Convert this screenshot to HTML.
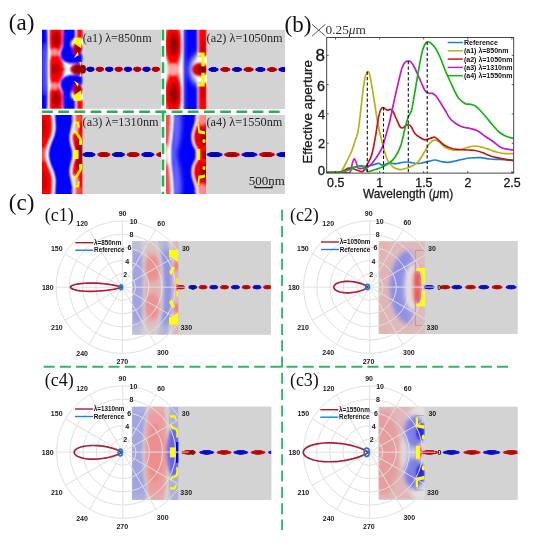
<!DOCTYPE html><html><head><meta charset="utf-8"><style>html,body{margin:0;padding:0;background:#fff;}svg{display:block;}text{font-family:"Liberation Sans",sans-serif;}.sf{font-family:"Liberation Serif",serif;}</style></head><body>
<svg width="534" height="550" viewBox="0 0 534 550" style="filter:blur(0.3px)">

<defs>
 <filter id="bl1" x="-20%" y="-20%" width="140%" height="140%"><feGaussianBlur stdDeviation="1.0"/></filter>
 <filter id="bl13" x="-20%" y="-20%" width="140%" height="140%"><feGaussianBlur stdDeviation="1.3"/></filter>
 <filter id="bl15" x="-20%" y="-20%" width="140%" height="140%"><feGaussianBlur stdDeviation="1.5"/></filter>
 <filter id="bl2" x="-20%" y="-20%" width="140%" height="140%"><feGaussianBlur stdDeviation="2.2"/></filter>
 <filter id="bl3" x="-30%" y="-30%" width="160%" height="160%"><feGaussianBlur stdDeviation="3.2"/></filter>
 <filter id="bl05" x="-20%" y="-20%" width="140%" height="140%"><feGaussianBlur stdDeviation="0.45"/></filter>
 <radialGradient id="gB"><stop offset="0" stop-color="#000078"/><stop offset="0.55" stop-color="#0000c0"/><stop offset="0.82" stop-color="#0a0af5"/><stop offset="1" stop-color="#5050ff" stop-opacity="0.05"/></radialGradient>
 <radialGradient id="gR"><stop offset="0" stop-color="#800000"/><stop offset="0.55" stop-color="#b00000"/><stop offset="0.82" stop-color="#e80000"/><stop offset="1" stop-color="#ff5050" stop-opacity="0.05"/></radialGradient>
 <clipPath id="ca1"><rect x="42" y="29.8" width="41" height="79"/></clipPath>
 <clipPath id="ca2"><rect x="166" y="29.8" width="40.5" height="79.2"/></clipPath>
 <clipPath id="ca3"><rect x="42" y="115" width="40.5" height="79"/></clipPath>
 <clipPath id="ca4"><rect x="166" y="115" width="40" height="79"/></clipPath>
 <clipPath id="wa1"><rect x="82" y="29.8" width="79" height="79"/></clipPath>
 <clipPath id="wa2"><rect x="205" y="29.8" width="80" height="79"/></clipPath>
 <clipPath id="wa3"><rect x="81" y="115" width="80" height="79"/></clipPath>
 <clipPath id="wa4"><rect x="205" y="115" width="80" height="79"/></clipPath>
</defs>

<rect x="0.0" y="0.0" width="534.0" height="550.0" fill="#ffffff" />
<text class="sf" x="8.8" y="30.4" font-size="23" fill="#111">(a)</text>
<rect x="83.0" y="29.8" width="78.0" height="79.0" fill="#d3d3d3" />
<rect x="206.5" y="29.8" width="78.5" height="79.2" fill="#d3d3d3" />
<rect x="82.5" y="115.0" width="78.5" height="79.0" fill="#d3d3d3" />
<rect x="206.0" y="115.0" width="79.0" height="79.0" fill="#d3d3d3" />
<g clip-path="url(#ca1)"><rect x="42.0" y="29.8" width="41.0" height="79.0" fill="#ffffff" /><g filter="url(#bl1)"><path d="M40.0,28.0 C40.0,34.9 40.0,55.5 40.0,69.3 C40.0,83.1 40.0,103.7 40.0,110.6 L47.2,110.6 C47.2,107.8 47.4,100.5 47.4,93.6 C47.4,86.7 47.2,77.4 47.2,69.3 C47.2,61.2 47.4,51.9 47.4,45.0 C47.4,38.1 47.2,30.8 47.2,28.0 Z" fill="#0000ff" /><path d="M49.6,28.0 C49.6,30.7 49.3,39.7 49.6,44.0 C49.9,48.3 51.2,50.6 51.2,53.6 C51.2,56.6 50.0,59.4 49.8,62.0 C49.6,64.6 49.8,66.9 49.8,69.3 C49.8,71.7 49.6,74.0 49.8,76.6 C50.0,79.2 51.2,82.0 51.2,85.0 C51.2,88.0 49.9,90.3 49.6,94.6 C49.3,98.9 49.6,107.9 49.6,110.6 L62.2,110.6 C62.2,107.9 62.8,98.9 62.2,94.6 C61.6,90.3 58.5,88.0 58.5,85.0 C58.5,82.0 61.7,79.2 62.5,76.6 C63.3,74.0 63.5,71.7 63.5,69.3 C63.5,66.9 63.3,64.6 62.5,62.0 C61.7,59.4 58.5,56.6 58.5,53.6 C58.5,50.6 61.6,48.3 62.2,44.0 C62.8,39.7 62.2,30.7 62.2,28.0 Z" fill="#ff0000" /><polygon points="60.0,63.8 65.5,69.3 60.0,74.8" fill="#ff0000" /><ellipse cx="54.5" cy="52.3" rx="3.2" ry="3.2" fill="#ffb8b8" opacity="0.8"/><ellipse cx="54.5" cy="86.3" rx="3.2" ry="3.2" fill="#ffb8b8" opacity="0.8"/><ellipse cx="56.3" cy="39.3" rx="4.0" ry="8.0" fill="#b00000" /><ellipse cx="56.3" cy="99.3" rx="4.0" ry="8.0" fill="#b00000" /><ellipse cx="55.5" cy="69.3" rx="4.5" ry="6.0" fill="#c00000" /><ellipse cx="44.5" cy="69.3" rx="2.0" ry="26.0" fill="#ffffff" opacity="0.3"/><polygon points="63.2,28.0 75.0,28.0 75.0,38.5 71.5,40.5 70.5,44.5 73.5,50.5 82.5,54.0 82.5,62.8 76.0,63.5 69.5,63.5 64.0,61.5 60.5,57.5 60.5,52.5 62.8,46.0" fill="#0000ff" /><polygon points="63.2,110.6 75.0,110.6 75.0,100.1 71.5,98.1 70.5,94.1 73.5,88.1 82.5,84.6 82.5,75.8 76.0,75.1 69.5,75.1 64.0,77.1 60.5,81.1 60.5,86.1 62.8,92.6" fill="#0000ff" /><polygon points="77.0,28.0 83.0,28.0 83.0,38.5 77.0,38.5" fill="#ff0000" /><polygon points="77.0,110.6 83.0,110.6 83.0,100.1 77.0,100.1" fill="#ff0000" /><ellipse cx="77.5" cy="48.8" rx="5.0" ry="6.2" fill="#c00000" /><ellipse cx="77.5" cy="89.8" rx="5.0" ry="6.2" fill="#c00000" /><ellipse cx="78.5" cy="49.8" rx="2.5" ry="3.5" fill="#900000" /><ellipse cx="78.5" cy="88.8" rx="2.5" ry="3.5" fill="#900000" /><ellipse cx="78.0" cy="69.3" rx="7.8" ry="5.8" fill="#c00000" /><ellipse cx="79.0" cy="69.3" rx="5.0" ry="4.0" fill="#8a0000" /></g><g filter="url(#bl1)"><path d="M48.5,28.0 C48.5,30.8 48.4,40.7 48.5,45.0 C48.6,49.3 49.2,50.8 49.2,53.6 C49.2,56.4 48.7,59.4 48.6,62.0 C48.5,64.6 48.6,66.9 48.6,69.3 C48.6,71.7 48.5,74.0 48.6,76.6 C48.7,79.2 49.2,82.2 49.2,85.0 C49.2,87.8 48.6,89.3 48.5,93.6 C48.4,97.9 48.5,107.8 48.5,110.6" stroke="#ffffff" stroke-width="1.60" fill="none" stroke-opacity="0.90"/></g><g filter="url(#bl05)"><polygon points="73.6,37.8 81.0,37.8 81.0,48.0 78.5,46.5 73.6,42.8" fill="#ffff00" /><polygon points="73.6,100.8 81.0,100.8 81.0,90.6 78.5,92.1 73.6,95.8" fill="#ffff00" /><polygon points="73.8,58.2 77.8,51.8 78.6,55.0" fill="#ffff00" /><polygon points="73.8,80.4 77.8,86.8 78.6,83.6" fill="#ffff00" /><polygon points="79.4,62.0 81.0,62.0 81.0,66.5" fill="#ffff00" /><polygon points="79.4,76.6 81.0,76.6 81.0,72.1" fill="#ffff00" /></g></g>
<g clip-path="url(#ca2)"><rect x="166.0" y="29.8" width="40.5" height="79.2" fill="#ffffff" /><g filter="url(#bl1)"><path d="M165.0,28.0 C165.1,31.7 165.1,44.3 165.5,50.0 C165.9,55.7 167.1,58.8 167.5,62.0 C167.9,65.2 168.0,67.0 168.0,69.5 C168.0,72.0 167.9,73.8 167.5,77.0 C167.1,80.2 165.9,83.3 165.5,89.0 C165.1,94.7 165.1,107.3 165.0,111.0 L180.6,111.0 C180.6,108.2 180.8,99.3 180.6,94.0 C180.4,88.7 179.9,83.1 179.6,79.0 C179.3,74.9 179.0,72.7 179.0,69.5 C179.0,66.3 179.3,64.1 179.6,60.0 C179.9,55.9 180.4,50.3 180.6,45.0 C180.8,39.7 180.6,30.8 180.6,28.0 Z" fill="#ff6060" /><ellipse cx="173.3" cy="44.5" rx="8.3" ry="21.0" fill="#ff0000" /><ellipse cx="173.3" cy="94.5" rx="8.3" ry="21.0" fill="#ff0000" /><ellipse cx="173.7" cy="44.5" rx="5.2" ry="12.0" fill="#c00000" /><ellipse cx="173.7" cy="94.5" rx="5.2" ry="12.0" fill="#c00000" /><ellipse cx="173.7" cy="44.5" rx="2.8" ry="7.0" fill="#980000" /><ellipse cx="173.7" cy="94.5" rx="2.8" ry="7.0" fill="#980000" /><ellipse cx="173.0" cy="69.5" rx="6.0" ry="6.0" fill="#ffb8b8" opacity="0.8"/><rect x="183.2" y="28.0" width="14.2" height="84.0" fill="#0000ff" /></g><g filter="url(#bl1)"><line x1="181.9" y1="28" x2="181.9" y2="111" stroke="#fff" stroke-width="1.6" stroke-opacity="0.9"/><rect x="183.2" y="28.0" width="3.5" height="84.0" fill="#ffffff" opacity="0.18"/></g><g filter="url(#bl3)"><ellipse cx="201.5" cy="69.5" rx="11.5" ry="16.0" fill="#ffffff" /></g><g filter="url(#bl1)"><rect x="198.6" y="27.0" width="8.5" height="29.0" fill="#ff0000" /><rect x="198.6" y="83.0" width="8.5" height="29.0" fill="#ff0000" /><ellipse cx="203.0" cy="47.5" rx="2.5" ry="8.0" fill="#d00000" /><ellipse cx="203.0" cy="91.5" rx="2.5" ry="8.0" fill="#d00000" /><ellipse cx="200.0" cy="69.5" rx="8.0" ry="6.8" fill="#e00000" /><ellipse cx="202.0" cy="69.5" rx="5.0" ry="4.6" fill="#b00000" /><ellipse cx="202.8" cy="69.5" rx="3.0" ry="3.0" fill="#800000" /></g><g filter="url(#bl05)"><polygon points="197.4,52.6 204.6,52.6 204.6,66.2 201.4,66.2 201.4,55.8 197.4,55.8" fill="#ffff00" /><polygon points="197.4,86.4 204.6,86.4 204.6,72.8 201.4,72.8 201.4,83.2 197.4,83.2" fill="#ffff00" /></g></g>
<g clip-path="url(#ca3)"><rect x="42.0" y="115.0" width="40.5" height="79.0" fill="#ffffff" /><g filter="url(#bl13)"><path d="M40.0,113.0 C40.0,119.9 40.0,140.7 40.0,154.5 C40.0,168.3 40.0,189.1 40.0,196.0 L51.6,196.0 C51.7,194.5 52.1,189.7 52.2,187.0 C52.3,184.3 52.6,182.3 52.4,180.0 C52.2,177.7 51.6,175.2 51.0,173.0 C50.4,170.8 49.2,169.0 48.5,167.0 C47.8,165.0 47.0,163.1 46.5,161.0 C46.0,158.9 45.5,156.7 45.5,154.5 C45.5,152.3 46.0,150.1 46.5,148.0 C47.0,145.9 47.8,144.0 48.5,142.0 C49.2,140.0 50.4,138.2 51.0,136.0 C51.6,133.8 52.2,131.3 52.4,129.0 C52.6,126.7 52.3,124.7 52.2,122.0 C52.1,119.3 51.7,114.5 51.6,113.0 Z" fill="#ff0000" /><ellipse cx="44.0" cy="128.5" rx="3.2" ry="10.0" fill="#d00000" /><ellipse cx="44.0" cy="180.5" rx="3.2" ry="10.0" fill="#d00000" /><ellipse cx="43.5" cy="154.5" rx="3.0" ry="7.0" fill="#ffa0a0" opacity="0.5"/><path d="M54.4,113.0 C54.5,114.5 54.9,119.3 55.0,122.0 C55.1,124.7 55.4,126.7 55.2,129.0 C55.0,131.3 54.4,133.8 53.8,136.0 C53.1,138.2 52.0,140.0 51.3,142.0 C50.5,144.0 49.8,145.9 49.3,148.0 C48.8,150.1 48.3,152.3 48.3,154.5 C48.3,156.7 48.8,158.9 49.3,161.0 C49.8,163.1 50.5,165.0 51.3,167.0 C52.0,169.0 53.1,170.8 53.8,173.0 C54.4,175.2 55.0,177.7 55.2,180.0 C55.4,182.3 55.1,184.3 55.0,187.0 C54.9,189.7 54.5,194.5 54.4,196.0 L72.8,196.0 C72.9,194.8 73.3,191.5 73.2,189.0 C73.1,186.5 72.5,183.7 72.0,181.0 C71.5,178.3 70.2,175.7 70.0,173.0 C69.8,170.3 70.4,167.3 70.8,165.0 C71.2,162.7 72.2,160.8 72.5,159.0 C72.8,157.2 72.8,156.0 72.8,154.5 C72.8,153.0 72.8,151.8 72.5,150.0 C72.2,148.2 71.2,146.3 70.8,144.0 C70.4,141.7 69.8,138.7 70.0,136.0 C70.2,133.3 71.5,130.7 72.0,128.0 C72.5,125.3 73.1,122.5 73.2,120.0 C73.3,117.5 72.9,114.2 72.8,113.0 Z" fill="#0000ff" /><path d="M75.0,113.0 C75.1,114.2 75.5,117.5 75.4,120.0 C75.3,122.5 74.7,125.3 74.2,128.0 C73.7,130.7 72.4,133.3 72.2,136.0 C72.0,138.7 72.6,141.7 73.0,144.0 C73.4,146.3 74.4,148.2 74.7,150.0 C75.0,151.8 75.0,153.0 75.0,154.5 C75.0,156.0 75.0,157.2 74.7,159.0 C74.4,160.8 73.4,162.7 73.0,165.0 C72.6,167.3 72.0,170.3 72.2,173.0 C72.4,175.7 73.7,178.3 74.2,181.0 C74.7,183.7 75.3,186.5 75.4,189.0 C75.5,191.5 75.1,194.8 75.0,196.0 L84.0,196.0 C84.0,189.1 84.0,168.3 84.0,154.5 C84.0,140.7 84.0,119.9 84.0,113.0 Z" fill="#ff0000" /><ellipse cx="75.0" cy="128.5" rx="3.0" ry="5.0" fill="#e4d4f0" opacity="0.85"/><ellipse cx="75.0" cy="180.5" rx="3.0" ry="5.0" fill="#e4d4f0" opacity="0.85"/><ellipse cx="77.0" cy="118.5" rx="5.0" ry="4.0" fill="#ff8080" opacity="0.6"/><ellipse cx="77.0" cy="190.5" rx="5.0" ry="4.0" fill="#ff8080" opacity="0.6"/><ellipse cx="79.5" cy="146.5" rx="3.5" ry="9.0" fill="#a80000" /><ellipse cx="79.5" cy="162.5" rx="3.5" ry="9.0" fill="#a80000" /><ellipse cx="80.5" cy="154.5" rx="2.5" ry="4.0" fill="#900000" /></g><g filter="url(#bl1)"><path d="M53.0,113.0 C53.1,114.5 53.5,119.3 53.6,122.0 C53.7,124.7 54.0,126.7 53.8,129.0 C53.6,131.3 53.0,133.8 52.4,136.0 C51.8,138.2 50.6,140.0 49.9,142.0 C49.1,144.0 48.4,145.9 47.9,148.0 C47.4,150.1 46.9,152.3 46.9,154.5 C46.9,156.7 47.4,158.9 47.9,161.0 C48.4,163.1 49.1,165.0 49.9,167.0 C50.6,169.0 51.8,170.8 52.4,173.0 C53.0,175.2 53.6,177.7 53.8,180.0 C54.0,182.3 53.7,184.3 53.6,187.0 C53.5,189.7 53.1,194.5 53.0,196.0" stroke="#ffffff" stroke-width="2.20" fill="none" stroke-opacity="0.90"/><path d="M73.9,113.0 C74.0,114.2 74.4,117.5 74.3,120.0 C74.2,122.5 73.6,125.3 73.1,128.0 C72.6,130.7 71.3,133.3 71.1,136.0 C70.9,138.7 71.5,141.7 71.9,144.0 C72.3,146.3 73.3,148.2 73.6,150.0 C73.9,151.8 73.9,153.0 73.9,154.5 C73.9,156.0 73.9,157.2 73.6,159.0 C73.3,160.8 72.3,162.7 71.9,165.0 C71.5,167.3 70.9,170.3 71.1,173.0 C71.3,175.7 72.6,178.3 73.1,181.0 C73.6,183.7 74.2,186.5 74.3,189.0 C74.4,191.5 74.0,194.8 73.9,196.0" stroke="#ffffff" stroke-width="1.80" fill="none" stroke-opacity="0.90"/></g><g filter="url(#bl05)"><polygon points="74.2,121.4 79.2,121.4 79.8,127.8 77.6,127.6 77.0,124.0 74.2,124.0" fill="#ffff00" /><polygon points="74.2,187.6 79.2,187.6 79.8,181.2 77.6,181.4 77.0,185.0 74.2,185.0" fill="#ffff00" /><path d="M73.9,131.0 C74.3,131.3 75.8,131.8 76.5,132.6 C77.2,133.3 77.3,134.4 78.0,135.5 C78.7,136.6 80.0,138.0 80.4,139.0 C80.8,140.0 80.6,141.1 80.6,141.5" stroke="#ffff00" stroke-width="2.6" fill="none"/><path d="M73.9,178.0 C74.3,177.7 75.8,177.2 76.5,176.4 C77.2,175.7 77.3,174.6 78.0,173.5 C78.7,172.4 80.0,171.0 80.4,170.0 C80.8,169.0 80.6,167.9 80.6,167.5" stroke="#ffff00" stroke-width="2.6" fill="none"/><ellipse cx="80.6" cy="142.9" rx="1.8" ry="2.3" fill="#ffff00" /><ellipse cx="80.6" cy="166.1" rx="1.8" ry="2.3" fill="#ffff00" /><rect x="73.5" y="150.0" width="5.0" height="9.0" fill="#ffff00" /></g></g>
<g clip-path="url(#ca4)"><rect x="166.0" y="115.0" width="40.0" height="79.0" fill="#ffffff" /><g filter="url(#bl1)"><path d="M164.0,113.0 C164.0,119.9 164.0,140.7 164.0,154.5 C164.0,168.3 164.0,189.1 164.0,196.0 L171.0,196.0 C171.0,194.5 171.0,190.7 170.8,187.0 C170.6,183.3 170.4,178.0 170.0,174.0 C169.6,170.0 169.0,166.2 168.6,163.0 C168.2,159.8 167.6,157.3 167.6,154.5 C167.6,151.7 168.2,149.2 168.6,146.0 C169.0,142.8 169.6,139.0 170.0,135.0 C170.4,131.0 170.6,125.7 170.8,122.0 C171.0,118.3 171.0,114.5 171.0,113.0 Z" fill="#ff4a4a" /><ellipse cx="166.0" cy="154.5" rx="3.0" ry="11.0" fill="#ffffff" opacity="0.45"/><path d="M173.4,113.0 C173.4,114.5 173.4,118.3 173.2,122.0 C173.0,125.7 172.5,131.0 172.2,135.0 C171.9,139.0 171.5,142.8 171.2,146.0 C170.9,149.2 170.6,151.7 170.6,154.5 C170.6,157.3 170.9,159.8 171.2,163.0 C171.5,166.2 171.9,170.0 172.2,174.0 C172.5,178.0 173.0,183.3 173.2,187.0 C173.4,190.7 173.4,194.5 173.4,196.0 L196.8,196.0 C196.7,194.8 196.8,191.8 196.2,189.0 C195.6,186.2 193.7,181.8 193.0,179.0 C192.3,176.2 191.8,174.3 191.8,172.0 C191.8,169.7 192.3,167.2 193.0,165.0 C193.7,162.8 195.5,160.8 196.0,159.0 C196.5,157.2 196.2,156.0 196.2,154.5 C196.2,153.0 196.5,151.8 196.0,150.0 C195.5,148.2 193.7,146.2 193.0,144.0 C192.3,141.8 191.8,139.3 191.8,137.0 C191.8,134.7 192.3,132.8 193.0,130.0 C193.7,127.2 195.6,122.8 196.2,120.0 C196.8,117.2 196.7,114.2 196.8,113.0 Z" fill="#0000ff" /><path d="M198.6,113.0 C198.5,114.2 198.6,117.2 198.0,120.0 C197.4,122.8 195.5,127.2 194.8,130.0 C194.1,132.8 193.6,134.7 193.6,137.0 C193.6,139.3 194.1,141.8 194.8,144.0 C195.5,146.2 197.3,148.2 197.8,150.0 C198.3,151.8 198.0,153.0 198.0,154.5 C198.0,156.0 198.3,157.2 197.8,159.0 C197.3,160.8 195.5,162.8 194.8,165.0 C194.1,167.2 193.6,169.7 193.6,172.0 C193.6,174.3 194.1,176.2 194.8,179.0 C195.5,181.8 197.4,186.2 198.0,189.0 C198.6,191.8 198.5,194.8 198.6,196.0 L208.0,196.0 C208.0,189.1 208.0,168.3 208.0,154.5 C208.0,140.7 208.0,119.9 208.0,113.0 Z" fill="#ff1010" /><ellipse cx="200.5" cy="137.0" rx="7.0" ry="11.5" fill="#e80000" /><ellipse cx="200.5" cy="172.0" rx="7.0" ry="11.5" fill="#e80000" /><ellipse cx="204.0" cy="137.5" rx="3.5" ry="8.0" fill="#a00000" /><ellipse cx="204.0" cy="171.5" rx="3.5" ry="8.0" fill="#a00000" /><ellipse cx="204.5" cy="154.5" rx="2.5" ry="5.0" fill="#b00000" /><ellipse cx="201.5" cy="118.5" rx="6.0" ry="6.5" fill="#ffb0b0" opacity="0.75"/><ellipse cx="201.5" cy="190.5" rx="6.0" ry="6.5" fill="#ffb0b0" opacity="0.75"/></g><g filter="url(#bl2)"><path d="M172.0,113.0 C172.0,119.9 172.0,140.7 172.0,154.5 C172.0,168.3 172.0,189.1 172.0,196.0 L181.0,196.0 C181.1,194.0 181.7,188.5 181.5,184.0 C181.3,179.5 180.8,173.9 180.0,169.0 C179.2,164.1 177.0,159.3 177.0,154.5 C177.0,149.7 179.2,144.9 180.0,140.0 C180.8,135.1 181.3,129.5 181.5,125.0 C181.7,120.5 181.1,115.0 181.0,113.0 Z" fill="#ffffff" opacity="0.4"/><ellipse cx="168.0" cy="154.5" rx="3.0" ry="8.0" fill="#ffffff" opacity="0.35"/><ellipse cx="168.0" cy="154.5" rx="3.0" ry="8.0" fill="#ffffff" opacity="0.35"/></g><g filter="url(#bl1)"><path d="M172.2,113.0 C172.2,114.5 172.2,118.3 172.0,122.0 C171.8,125.7 171.4,131.0 171.1,135.0 C170.8,139.0 170.2,142.8 169.9,146.0 C169.6,149.2 169.1,151.7 169.1,154.5 C169.1,157.3 169.6,159.8 169.9,163.0 C170.2,166.2 170.8,170.0 171.1,174.0 C171.4,178.0 171.8,183.3 172.0,187.0 C172.2,190.7 172.2,194.5 172.2,196.0" stroke="#ffffff" stroke-width="2.00" fill="none" stroke-opacity="0.90"/><path d="M197.7,113.0 C197.6,114.2 197.7,117.2 197.1,120.0 C196.5,122.8 194.6,127.2 193.9,130.0 C193.2,132.8 192.7,134.7 192.7,137.0 C192.7,139.3 193.2,141.8 193.9,144.0 C194.6,146.2 196.4,148.2 196.9,150.0 C197.4,151.8 197.1,153.0 197.1,154.5 C197.1,156.0 197.4,157.2 196.9,159.0 C196.4,160.8 194.6,162.8 193.9,165.0 C193.2,167.2 192.7,169.7 192.7,172.0 C192.7,174.3 193.2,176.2 193.9,179.0 C194.6,181.8 196.5,186.2 197.1,189.0 C197.7,191.8 197.6,194.8 197.7,196.0" stroke="#ffffff" stroke-width="1.60" fill="none" stroke-opacity="0.90"/></g><g filter="url(#bl05)"><polygon points="197.3,123.8 199.2,123.8 199.8,130.2 205.0,131.6 205.0,134.6 198.3,133.2" fill="#ffff00" /><polygon points="197.3,185.2 199.2,185.2 199.8,178.8 205.0,177.4 205.0,174.4 198.3,175.8" fill="#ffff00" /><ellipse cx="204.0" cy="141.0" rx="1.6" ry="1.9" fill="#ffff00" /><ellipse cx="204.0" cy="168.0" rx="1.6" ry="1.9" fill="#ffff00" /><rect x="197.3" y="149.0" width="2.9" height="11.0" fill="#ffff00" /></g></g>
<g clip-path="url(#wa1)"><ellipse cx="90.4" cy="69.2" rx="4.7" ry="3.0" fill="url(#gB)" /><ellipse cx="99.8" cy="69.2" rx="4.7" ry="3.0" fill="url(#gR)" /><ellipse cx="109.3" cy="69.2" rx="4.7" ry="3.0" fill="url(#gB)" /><ellipse cx="118.7" cy="69.2" rx="4.7" ry="3.0" fill="url(#gR)" /><ellipse cx="128.0" cy="69.2" rx="4.7" ry="3.0" fill="url(#gB)" /><ellipse cx="137.3" cy="69.2" rx="4.7" ry="3.0" fill="url(#gR)" /><ellipse cx="146.5" cy="69.2" rx="4.7" ry="3.0" fill="url(#gB)" /><ellipse cx="155.8" cy="69.2" rx="4.7" ry="3.0" fill="url(#gR)" /></g>
<g filter="url(#bl05)"><ellipse cx="83.2" cy="69.3" rx="2.8" ry="4.2" fill="#900000" /></g>
<g clip-path="url(#wa2)"><ellipse cx="213.5" cy="69.5" rx="5.7" ry="2.7" fill="url(#gB)" /><ellipse cx="225.3" cy="69.5" rx="5.7" ry="2.7" fill="url(#gR)" /><ellipse cx="237.0" cy="69.5" rx="5.7" ry="2.7" fill="url(#gB)" /><ellipse cx="248.6" cy="69.5" rx="5.7" ry="2.7" fill="url(#gR)" /><ellipse cx="260.4" cy="69.5" rx="5.7" ry="2.7" fill="url(#gB)" /><ellipse cx="272.0" cy="69.5" rx="5.7" ry="2.7" fill="url(#gR)" /><ellipse cx="283.4" cy="69.5" rx="5.7" ry="2.7" fill="url(#gB)" /></g>
<g clip-path="url(#wa3)"><ellipse cx="88.9" cy="154.6" rx="7.3" ry="3.0" fill="url(#gB)" /><ellipse cx="103.8" cy="154.6" rx="7.3" ry="3.0" fill="url(#gR)" /><ellipse cx="118.4" cy="154.6" rx="7.3" ry="3.0" fill="url(#gB)" /><ellipse cx="133.2" cy="154.6" rx="7.3" ry="3.0" fill="url(#gR)" /><ellipse cx="147.8" cy="154.6" rx="7.3" ry="3.0" fill="url(#gB)" /><ellipse cx="162.6" cy="154.6" rx="7.3" ry="3.0" fill="url(#gR)" /></g>
<g clip-path="url(#wa4)"><ellipse cx="214.6" cy="154.6" rx="8.8" ry="3.0" fill="url(#gB)" /><ellipse cx="231.9" cy="154.6" rx="8.8" ry="3.0" fill="url(#gR)" /><ellipse cx="249.4" cy="154.6" rx="8.8" ry="3.0" fill="url(#gB)" /><ellipse cx="266.9" cy="154.6" rx="8.8" ry="3.0" fill="url(#gR)" /><ellipse cx="284.3" cy="154.6" rx="8.8" ry="3.0" fill="url(#gB)" /></g>
<text class="sf" x="82.7" y="42.4" font-size="12" fill="#262626" textLength="68.9" lengthAdjust="spacingAndGlyphs">(a1) λ=850nm</text>
<text class="sf" x="206.6" y="42.4" font-size="12" fill="#262626" textLength="76.0" lengthAdjust="spacingAndGlyphs">(a2) λ=1050nm</text>
<text class="sf" x="82.6" y="125.7" font-size="12" fill="#262626" textLength="76.0" lengthAdjust="spacingAndGlyphs">(a3) λ=1310nm</text>
<text class="sf" x="206.4" y="125.7" font-size="12" fill="#262626" textLength="76.0" lengthAdjust="spacingAndGlyphs">(a4) λ=1550nm</text>
<text class="sf" x="248.8" y="185.2" font-size="12.4" fill="#222" textLength="36" lengthAdjust="spacingAndGlyphs">500nm</text>
<path d="M255,185.5 L255,187.6 L272,187.6 L272,185.5" stroke="#222" stroke-width="1.3" fill="none"/>
<line x1="42" y1="111.8" x2="285" y2="111.8" stroke="#22b455" stroke-width="2.6" stroke-dasharray="10.8 5.4"/>
<line x1="163" y1="29.8" x2="163" y2="194" stroke="#22b455" stroke-width="2.6" stroke-dasharray="10.8 5.4"/>
<text class="sf" x="284.5" y="31.6" font-size="23" fill="#111">(b)</text>
<path d="M312,24.3 L325.5,36.1 M325.5,24.3 L312,36.1" stroke="#444" stroke-width="0.9"/>
<text class="sf" x="325.5" y="33.6" font-size="11.8" fill="#333" textLength="40.5" lengthAdjust="spacingAndGlyphs">0.25<tspan font-style="italic">μ</tspan>m</text>
<clipPath id="cb"><rect x="326.7" y="37.5" width="187" height="135.5"/></clipPath><g clip-path="url(#cb)"><path d="M326.7,172.5 C328.9,172.5 336.9,172.6 340.0,172.3 C343.1,172.1 343.3,171.6 345.0,171.0 C346.7,170.4 348.2,169.2 350.0,168.5 C351.8,167.8 353.7,167.1 355.5,166.8 C357.3,166.5 359.2,166.6 361.0,166.5 C362.8,166.4 364.4,166.5 366.4,166.2 C368.4,165.9 371.1,165.3 373.2,164.8 C375.2,164.3 377.2,163.3 378.7,163.4 C380.2,163.5 380.8,165.1 382.0,165.2 C383.2,165.3 384.7,164.4 386.0,164.0 C387.3,163.6 388.1,162.8 389.6,162.8 C391.1,162.8 393.3,163.8 395.0,163.8 C396.7,163.8 398.3,163.1 400.0,162.8 C401.7,162.5 403.3,162.1 405.0,162.0 C406.7,161.9 408.2,162.1 410.0,162.3 C411.8,162.6 414.0,163.4 416.0,163.5 C418.0,163.6 420.0,163.3 422.0,163.0 C424.0,162.7 425.8,162.0 428.0,161.5 C430.2,161.0 432.8,160.0 435.0,160.0 C437.2,160.0 438.9,161.1 441.0,161.5 C443.1,161.9 445.4,162.4 447.7,162.3 C450.0,162.2 452.6,161.5 455.0,161.0 C457.4,160.5 459.5,160.0 462.0,159.5 C464.5,159.0 466.9,158.3 470.0,158.0 C473.1,157.7 477.0,157.4 480.3,157.6 C483.6,157.8 486.7,158.7 490.0,159.0 C493.3,159.3 496.1,159.3 500.0,159.5 C503.9,159.7 511.4,159.9 513.7,160.0" stroke="#1b82d8" stroke-width="1.7" fill="none" stroke-linejoin="round"/><path d="M326.7,172.5 C328.6,172.5 335.6,172.5 338.0,172.3 C340.4,172.1 339.8,173.1 341.1,171.5 C342.4,169.9 344.3,166.3 346.0,163.0 C347.7,159.7 349.8,155.7 351.4,151.8 C353.0,147.9 354.5,142.6 355.5,139.6 C356.5,136.6 356.8,137.2 357.5,134.0 C358.2,130.8 358.9,125.7 359.6,120.5 C360.3,115.3 360.8,109.5 361.6,102.7 C362.4,96.0 363.5,85.2 364.5,80.0 C365.5,74.8 366.5,72.5 367.4,71.8 C368.3,71.1 369.0,72.0 370.0,76.0 C371.0,80.0 372.3,88.6 373.5,96.0 C374.7,103.4 376.2,114.0 377.3,120.5 C378.4,127.0 379.3,130.7 380.3,135.0 C381.3,139.3 382.1,142.6 383.2,146.5 C384.3,150.4 385.8,155.8 386.8,158.5 C387.9,161.2 388.4,161.5 389.5,163.0 C390.6,164.5 391.9,166.4 393.7,167.5 C395.5,168.6 398.6,169.4 400.5,169.6 C402.4,169.8 403.4,168.9 405.0,168.5 C406.6,168.1 407.8,168.1 410.0,167.0 C412.2,165.9 415.5,164.7 418.0,162.0 C420.5,159.3 423.0,154.2 425.0,151.0 C427.0,147.8 428.3,144.9 430.0,143.0 C431.7,141.1 433.3,139.9 435.0,139.8 C436.7,139.7 438.3,141.2 440.0,142.5 C441.7,143.8 443.0,146.1 445.0,147.3 C447.0,148.6 449.5,149.6 452.0,150.0 C454.5,150.4 457.5,150.2 460.0,149.8 C462.5,149.4 464.5,148.1 467.0,147.5 C469.5,146.9 472.3,146.0 475.0,146.0 C477.7,146.0 480.5,146.9 483.0,147.5 C485.5,148.1 487.5,149.0 490.0,149.8 C492.5,150.6 495.5,151.9 498.0,152.5 C500.5,153.1 502.4,153.4 505.0,153.6 C507.6,153.8 512.2,153.6 513.7,153.6" stroke="#b9b01c" stroke-width="1.7" fill="none" stroke-linejoin="round"/><path d="M326.7,172.5 C328.9,172.5 336.9,172.7 340.0,172.3 C343.1,171.9 343.6,170.7 345.0,170.0 C346.4,169.3 347.3,168.4 348.6,168.2 C349.9,168.0 351.4,168.4 353.0,168.8 C354.6,169.2 356.4,170.0 358.0,170.5 C359.6,171.0 361.1,171.8 362.3,171.6 C363.5,171.3 364.2,170.1 365.0,169.0 C365.8,167.9 365.9,167.4 367.0,165.0 C368.1,162.6 370.3,159.8 371.8,154.6 C373.3,149.4 374.8,140.5 375.9,134.1 C377.0,127.7 377.9,120.5 378.7,116.4 C379.5,112.3 380.1,111.0 380.8,109.5 C381.5,108.0 382.0,107.6 382.7,107.5 C383.4,107.4 384.2,108.3 385.0,108.8 C385.8,109.2 386.8,110.0 387.5,110.2 C388.2,110.4 388.7,109.8 389.3,109.7 C389.9,109.6 390.3,109.0 391.0,109.5 C391.7,110.0 392.6,110.9 393.5,112.5 C394.4,114.1 395.2,116.5 396.4,119.0 C397.6,121.5 399.3,125.9 400.5,127.3 C401.7,128.7 402.6,127.8 403.5,127.5 C404.4,127.2 405.1,126.0 406.0,125.5 C406.9,125.0 407.9,124.5 408.7,124.7 C409.5,124.9 409.9,125.0 411.0,126.5 C412.1,128.0 413.5,131.7 415.0,133.5 C416.5,135.3 418.3,136.4 420.0,137.5 C421.7,138.6 423.3,139.6 425.0,139.8 C426.7,140.0 428.3,138.9 430.0,138.5 C431.7,138.1 433.3,136.8 435.0,137.3 C436.7,137.8 438.3,140.1 440.0,141.5 C441.7,142.9 443.0,144.3 445.0,145.5 C447.0,146.7 449.5,147.8 452.0,148.5 C454.5,149.2 457.3,149.2 460.0,149.5 C462.7,149.8 465.4,149.8 468.0,150.0 C470.6,150.2 472.8,150.0 475.3,150.5 C477.8,151.0 480.5,151.9 483.0,152.8 C485.5,153.7 487.6,155.1 490.4,156.0 C493.2,156.9 496.1,157.5 500.0,158.3 C503.9,159.1 511.4,160.4 513.7,160.8" stroke="#b71c1c" stroke-width="1.7" fill="none" stroke-linejoin="round"/><path d="M326.7,172.5 C329.4,172.5 339.4,172.2 343.0,172.3 C346.6,172.4 346.7,173.2 348.0,173.0 C349.3,172.8 349.9,172.7 350.7,171.0 C351.4,169.3 351.9,165.1 352.5,163.0 C353.1,160.9 353.6,158.9 354.2,158.7 C354.8,158.5 355.3,160.4 356.0,162.0 C356.7,163.6 357.2,167.1 358.2,168.2 C359.2,169.3 360.6,168.5 362.0,168.5 C363.4,168.5 365.1,168.5 366.4,168.0 C367.7,167.5 368.6,166.8 370.0,165.5 C371.4,164.2 373.2,161.9 374.6,160.0 C376.0,158.1 377.2,156.3 378.6,154.0 C380.0,151.7 381.5,149.6 382.7,146.4 C383.9,143.2 384.9,139.1 386.0,135.0 C387.1,130.9 388.2,127.6 389.6,121.8 C391.0,116.0 392.9,106.3 394.3,100.0 C395.7,93.7 396.7,89.3 398.0,84.0 C399.3,78.7 400.8,71.6 402.0,68.0 C403.2,64.4 403.9,63.4 405.0,62.3 C406.1,61.1 407.3,61.1 408.3,61.1 C409.3,61.1 410.0,60.9 411.0,62.0 C412.0,63.1 413.3,65.3 414.5,67.5 C415.7,69.7 416.9,72.6 418.0,75.0 C419.1,77.4 419.8,79.4 421.0,82.0 C422.2,84.6 423.7,88.6 425.0,90.5 C426.3,92.4 427.7,92.7 429.0,93.2 C430.3,93.7 431.4,92.9 432.6,93.4 C433.8,93.9 434.8,94.6 436.0,96.0 C437.2,97.4 438.5,99.7 440.0,102.0 C441.5,104.3 443.3,107.2 445.0,110.0 C446.7,112.8 448.3,116.3 450.0,118.5 C451.7,120.7 453.3,121.8 455.0,123.0 C456.7,124.2 458.3,125.2 460.0,126.0 C461.7,126.8 463.3,127.1 465.0,127.5 C466.7,127.9 468.1,127.9 470.3,128.5 C472.5,129.1 475.5,129.7 478.0,131.0 C480.5,132.3 482.9,134.8 485.4,136.5 C487.9,138.2 490.5,139.7 493.0,141.5 C495.5,143.3 498.2,145.9 500.5,147.2 C502.8,148.5 504.8,148.7 507.0,149.2 C509.2,149.7 512.6,149.9 513.7,150.0" stroke="#c21cc8" stroke-width="1.7" fill="none" stroke-linejoin="round"/><path d="M326.7,172.5 C328.9,172.5 336.9,172.6 340.0,172.3 C343.1,172.1 343.3,171.5 345.0,171.0 C346.7,170.5 348.3,170.1 350.0,169.5 C351.7,168.9 353.2,168.2 355.0,167.5 C356.8,166.8 359.5,165.5 360.9,165.5 C362.3,165.5 362.8,166.6 363.6,167.3 C364.5,168.0 365.3,168.8 366.0,169.5 C366.7,170.2 366.7,171.4 367.7,171.6 C368.7,171.8 370.3,171.1 372.0,170.6 C373.7,170.1 376.2,169.2 378.0,168.6 C379.8,168.0 380.8,167.8 382.7,166.8 C384.6,165.8 387.6,164.4 389.6,162.8 C391.7,161.2 393.2,160.0 395.0,157.3 C396.8,154.6 398.9,151.0 400.5,146.4 C402.1,141.8 403.4,134.8 404.6,130.0 C405.9,125.2 406.8,120.8 408.0,117.5 C409.2,114.2 410.5,113.9 411.6,110.0 C412.7,106.1 413.6,99.0 414.5,94.0 C415.4,89.0 416.1,84.8 416.9,80.0 C417.7,75.2 418.6,69.6 419.5,65.0 C420.4,60.4 421.2,55.8 422.0,52.5 C422.8,49.2 423.6,46.8 424.5,45.0 C425.4,43.2 426.3,42.3 427.2,41.9 C428.1,41.5 428.7,41.6 430.0,42.5 C431.3,43.4 433.3,45.1 435.0,47.5 C436.7,49.9 438.3,53.3 440.0,57.0 C441.7,60.7 443.3,65.8 445.0,69.8 C446.7,73.8 448.3,77.3 450.0,81.0 C451.7,84.7 453.6,89.2 455.0,92.0 C456.4,94.8 457.2,96.3 458.5,98.0 C459.8,99.7 461.6,101.0 462.8,102.0 C464.1,103.0 464.8,103.6 466.0,104.0 C467.2,104.4 468.8,104.0 470.3,104.3 C471.8,104.6 473.3,104.8 475.0,105.8 C476.7,106.8 478.5,108.6 480.3,110.5 C482.1,112.4 483.9,114.5 486.0,117.0 C488.1,119.5 490.8,123.0 493.0,125.5 C495.2,128.0 496.9,130.2 499.0,132.0 C501.1,133.8 503.1,134.9 505.5,136.0 C507.9,137.1 512.3,138.1 513.7,138.5" stroke="#19b019" stroke-width="1.7" fill="none" stroke-linejoin="round"/><line x1="367.3" y1="71.6" x2="367.3" y2="173" stroke="#111" stroke-width="1.1" stroke-dasharray="3.2 2.2"/><line x1="383.5" y1="107.2" x2="383.5" y2="173" stroke="#111" stroke-width="1.1" stroke-dasharray="3.2 2.2"/><line x1="408.3" y1="61.1" x2="408.3" y2="173" stroke="#111" stroke-width="1.1" stroke-dasharray="3.2 2.2"/><line x1="427.2" y1="41.9" x2="427.2" y2="173" stroke="#111" stroke-width="1.1" stroke-dasharray="3.2 2.2"/></g><rect x="326.7" y="37.5" width="187" height="135.6" fill="none" stroke="#333" stroke-width="0.9"/><line x1="335.5" y1="173" x2="335.5" y2="171" stroke="#333" stroke-width="0.8"/><line x1="335.5" y1="37.5" x2="335.5" y2="39.5" stroke="#333" stroke-width="0.8"/><line x1="379.6" y1="173" x2="379.6" y2="171" stroke="#333" stroke-width="0.8"/><line x1="379.6" y1="37.5" x2="379.6" y2="39.5" stroke="#333" stroke-width="0.8"/><line x1="423.7" y1="173" x2="423.7" y2="171" stroke="#333" stroke-width="0.8"/><line x1="423.7" y1="37.5" x2="423.7" y2="39.5" stroke="#333" stroke-width="0.8"/><line x1="467.8" y1="173" x2="467.8" y2="171" stroke="#333" stroke-width="0.8"/><line x1="467.8" y1="37.5" x2="467.8" y2="39.5" stroke="#333" stroke-width="0.8"/><line x1="511.9" y1="173" x2="511.9" y2="171" stroke="#333" stroke-width="0.8"/><line x1="511.9" y1="37.5" x2="511.9" y2="39.5" stroke="#333" stroke-width="0.8"/><line x1="326.7" y1="172.5" x2="328.7" y2="172.5" stroke="#333" stroke-width="0.8"/><line x1="513.7" y1="172.5" x2="511.7" y2="172.5" stroke="#333" stroke-width="0.8"/><text x="325" y="175.1" font-size="13.2" fill="#1a1a1a" stroke="#1a1a1a" stroke-width="0.35" text-anchor="end">0</text><line x1="326.7" y1="143.2" x2="328.7" y2="143.2" stroke="#333" stroke-width="0.8"/><line x1="513.7" y1="143.2" x2="511.7" y2="143.2" stroke="#333" stroke-width="0.8"/><text x="325" y="148.0" font-size="12.8" fill="#1a1a1a" stroke="#1a1a1a" stroke-width="0.35" text-anchor="end">2</text><line x1="326.7" y1="113.9" x2="328.7" y2="113.9" stroke="#333" stroke-width="0.8"/><line x1="513.7" y1="113.9" x2="511.7" y2="113.9" stroke="#333" stroke-width="0.8"/><text x="325" y="118.7" font-size="12.6" fill="#1a1a1a" stroke="#1a1a1a" stroke-width="0.35" text-anchor="end">4</text><line x1="326.7" y1="84.6" x2="328.7" y2="84.6" stroke="#333" stroke-width="0.8"/><line x1="513.7" y1="84.6" x2="511.7" y2="84.6" stroke="#333" stroke-width="0.8"/><text x="325" y="91.0" font-size="14.2" fill="#1a1a1a" stroke="#1a1a1a" stroke-width="0.35" text-anchor="end">6</text><line x1="326.7" y1="55.3" x2="328.7" y2="55.3" stroke="#333" stroke-width="0.8"/><line x1="513.7" y1="55.3" x2="511.7" y2="55.3" stroke="#333" stroke-width="0.8"/><text x="325" y="61.0" font-size="17.0" fill="#1a1a1a" stroke="#1a1a1a" stroke-width="0.35" text-anchor="end">8</text><text x="335.7" y="186.9" font-size="12.4" fill="#1a1a1a" stroke="#1a1a1a" stroke-width="0.3" text-anchor="middle">0.5</text><text x="379.8" y="186.9" font-size="12.4" fill="#1a1a1a" stroke="#1a1a1a" stroke-width="0.3" text-anchor="middle">1</text><text x="423.9" y="186.9" font-size="12.4" fill="#1a1a1a" stroke="#1a1a1a" stroke-width="0.3" text-anchor="middle">1.5</text><text x="468.0" y="186.9" font-size="12.4" fill="#1a1a1a" stroke="#1a1a1a" stroke-width="0.3" text-anchor="middle">2</text><text x="512.1" y="186.9" font-size="12.4" fill="#1a1a1a" stroke="#1a1a1a" stroke-width="0.3" text-anchor="middle">2.5</text><text x="362.9" y="197.6" font-size="12.8" fill="#1a1a1a" stroke="#1a1a1a" stroke-width="0.3" textLength="90.4" lengthAdjust="spacingAndGlyphs">Wavelength (<tspan font-style="italic">μ</tspan>m)</text><text transform="translate(312.4,163.6) rotate(-90)" font-size="12.8" fill="#1a1a1a" stroke="#1a1a1a" stroke-width="0.3" textLength="103.4" lengthAdjust="spacingAndGlyphs">Effective aperture</text><line x1="447.7" y1="42.5" x2="462.8" y2="42.5" stroke="#1b82d8" stroke-width="1.5"/><text x="464" y="45.0" font-size="7" font-weight="bold" fill="#111">Reference</text><line x1="447.7" y1="50.8" x2="462.8" y2="50.8" stroke="#b9b01c" stroke-width="1.5"/><text x="464" y="53.3" font-size="7" font-weight="bold" fill="#111">(a1) λ=850nm</text><line x1="447.7" y1="59.1" x2="462.8" y2="59.1" stroke="#b71c1c" stroke-width="1.5"/><text x="464" y="61.6" font-size="7" font-weight="bold" fill="#111">(a2) λ=1050nm</text><line x1="447.7" y1="67.4" x2="462.8" y2="67.4" stroke="#c21cc8" stroke-width="1.5"/><text x="464" y="69.9" font-size="7" font-weight="bold" fill="#111">(a3) λ=1310nm</text><line x1="447.7" y1="75.7" x2="462.8" y2="75.7" stroke="#19b019" stroke-width="1.5"/><text x="464" y="78.2" font-size="7" font-weight="bold" fill="#111">(a4) λ=1550nm</text>
<text class="sf" x="8.8" y="209.6" font-size="23" fill="#111">(c)</text>
<clipPath id="cc1"><rect x="132.3" y="241.3" width="46.3" height="93.3"/></clipPath><rect x="132.3" y="241.3" width="138.6" height="93.3" fill="#d3d3d3" /><g clip-path="url(#cc1)"><g filter="url(#bl15)"><path d="M131.0,239.0 C131.0,247.1 131.0,271.2 131.0,287.3 C131.0,303.4 131.0,327.6 131.0,335.6 L142.0,335.6 C142.1,332.1 142.3,322.7 142.5,314.6 C142.7,306.6 143.0,296.4 143.0,287.3 C143.0,278.2 142.7,268.1 142.5,260.0 C142.3,251.9 142.1,242.5 142.0,239.0 Z" fill="#8c90e6" opacity="0.7"/><path d="M146.0,239.0 C145.9,242.5 145.4,251.9 145.2,260.0 C145.0,268.1 144.8,278.2 144.8,287.3 C144.8,296.4 145.0,306.6 145.2,314.6 C145.4,322.7 145.9,332.1 146.0,335.6 L154.5,335.6 C155.1,332.9 157.1,324.8 158.0,319.6 C158.9,314.4 159.6,310.0 160.0,304.6 C160.4,299.2 160.5,293.1 160.5,287.3 C160.5,281.5 160.4,275.4 160.0,270.0 C159.6,264.6 158.9,260.2 158.0,255.0 C157.1,249.8 155.1,241.7 154.5,239.0 Z" fill="#ee9a9a" opacity="0.6"/><ellipse cx="152.5" cy="268.3" rx="7.5" ry="13.0" fill="#ee8c8c" opacity="0.8"/><ellipse cx="152.5" cy="306.3" rx="7.5" ry="13.0" fill="#ee8c8c" opacity="0.8"/><path d="M157.0,239.0 C157.6,241.2 159.5,247.5 160.5,252.0 C161.5,256.5 162.2,260.1 162.8,266.0 C163.4,271.9 163.8,280.2 163.8,287.3 C163.8,294.4 163.4,302.7 162.8,308.6 C162.2,314.5 161.5,318.1 160.5,322.6 C159.5,327.1 157.6,333.4 157.0,335.6 L166.5,335.6 C167.0,333.4 168.7,327.1 169.5,322.6 C170.3,318.1 170.9,314.5 171.3,308.6 C171.7,302.7 172.0,294.4 172.0,287.3 C172.0,280.2 171.7,271.9 171.3,266.0 C170.9,260.1 170.3,256.5 169.5,252.0 C168.7,247.5 167.0,241.2 166.5,239.0 Z" fill="#8c90e6" opacity="0.95"/><path d="M173.0,239.0 C173.0,247.1 173.0,271.2 173.0,287.3 C173.0,303.4 173.0,327.6 173.0,335.6 L180.0,335.6 C180.0,327.6 180.0,303.4 180.0,287.3 C180.0,271.2 180.0,247.1 180.0,239.0 Z" fill="#f09a9a" opacity="0.55"/><ellipse cx="176.5" cy="266.3" rx="3.0" ry="5.0" fill="#f07070" opacity="0.8"/><ellipse cx="176.5" cy="308.3" rx="3.0" ry="5.0" fill="#f07070" opacity="0.8"/><ellipse cx="178.0" cy="287.3" rx="3.0" ry="3.0" fill="#e04040" /></g><g filter="url(#bl3)"><rect x="131.0" y="237.0" width="36.0" height="14.0" fill="#d3d3d3" opacity="0.65"/><rect x="131.0" y="324.0" width="36.0" height="14.0" fill="#d3d3d3" opacity="0.65"/></g><g filter="url(#bl05)"><polygon points="169.0,250.0 178.5,250.0 178.5,257.5 169.0,257.5" fill="#ffff00" /><polygon points="169.0,324.6 178.5,324.6 178.5,317.1 169.0,317.1" fill="#ffff00" /><polygon points="172.0,257.5 178.5,257.5 178.5,262.5" fill="#ffff00" /><polygon points="172.0,317.1 178.5,317.1 178.5,312.1" fill="#ffff00" /><polygon points="169.0,272.0 172.5,266.5 175.0,267.5 171.5,275.5" fill="#ffff00" /><polygon points="169.0,302.6 172.5,308.1 175.0,307.1 171.5,299.1" fill="#ffff00" /><polygon points="176.5,278.0 178.5,278.0 178.5,284.0 176.5,284.0" fill="#ffff00" /><polygon points="176.5,296.6 178.5,296.6 178.5,290.6 176.5,290.6" fill="#ffff00" /></g><line x1="168.6" y1="250" x2="168.6" y2="325" stroke="#999" stroke-width="0.5" opacity="0.6"/><line x1="178.5" y1="241" x2="178.5" y2="335" stroke="#bbb" stroke-width="0.6"/></g>
<clipPath id="cc2"><rect x="378.6" y="241.2" width="46.4" height="92.8"/></clipPath><rect x="378.6" y="241.2" width="138.9" height="92.8" fill="#d3d3d3" /><g clip-path="url(#cc2)"><g filter="url(#bl2)"><rect x="378.0" y="240.0" width="48.0" height="96.0" fill="#ee9a9a" opacity="0.45"/><rect x="378.0" y="240.0" width="10.0" height="96.0" fill="#ee9a9a" opacity="0.2"/><path d="M410,250.2 A20.5,37 0 0 0 410,324.2 A7.5,25 0 0 1 410,262.2 Z" fill="#8c90e6" opacity="0.9"/><path d="M410,250.2 A20.5,37 0 0 0 410,324.2 L414,312.2 A6.5,25 0 0 1 414,262.2 Z" fill="#8c90e6" opacity="0.9"/><ellipse cx="411.5" cy="287.2" rx="6.5" ry="23.0" fill="#ebe2e2" /><ellipse cx="416.8" cy="287.2" rx="4.6" ry="17.0" fill="#f06060" opacity="0.8"/><ellipse cx="417.0" cy="278.2" rx="4.2" ry="8.5" fill="#f04848" opacity="0.85"/><ellipse cx="417.0" cy="296.2" rx="4.2" ry="8.5" fill="#f04848" opacity="0.85"/></g><g filter="url(#bl05)"><polygon points="416.5,268.0 425.0,268.0 425.0,284.0 421.5,284.0 421.0,273.0 419.0,271.0 416.5,271.0" fill="#ffff00" /><polygon points="416.5,306.4 425.0,306.4 425.0,290.4 421.5,290.4 421.0,301.4 419.0,303.4 416.5,303.4" fill="#ffff00" /></g><path d="M425,250.4 L415.4,250.4 L415.4,325.5 L425,325.5" stroke="#888" stroke-width="0.5" fill="none"/></g>
<clipPath id="cc4"><rect x="131.9" y="406.7" width="46.7" height="93.3"/></clipPath><rect x="131.9" y="406.7" width="139.3" height="93.3" fill="#d3d3d3" /><g clip-path="url(#cc4)"><g filter="url(#bl15)"><path d="M131.0,404.0 C131.0,412.1 131.0,436.3 131.0,452.4 C131.0,468.5 131.0,492.7 131.0,500.8 L147.0,500.8 C146.6,497.3 145.2,487.9 144.5,479.8 C143.8,471.7 142.5,461.5 142.5,452.4 C142.5,443.3 143.8,433.1 144.5,425.0 C145.2,416.9 146.6,407.5 147.0,404.0 Z" fill="#8c90e6" opacity="0.7"/><path d="M150.0,404.0 C149.4,407.5 147.4,416.9 146.5,425.0 C145.6,433.1 144.8,443.3 144.8,452.4 C144.8,461.5 145.6,471.7 146.5,479.8 C147.4,487.9 149.4,497.3 150.0,500.8 L163.5,500.8 C163.9,497.3 165.4,487.9 166.0,479.8 C166.6,471.7 167.0,461.5 167.0,452.4 C167.0,443.3 166.6,433.1 166.0,425.0 C165.4,416.9 163.9,407.5 163.5,404.0 Z" fill="#ee9a9a" opacity="0.95"/><ellipse cx="155.0" cy="452.4" rx="7.0" ry="30.0" fill="#ee8080" opacity="0.5"/><rect x="169.6" y="404.0" width="10.0" height="100.0" fill="#8c90e6" opacity="0.55"/><ellipse cx="173.5" cy="452.4" rx="7.0" ry="24.0" fill="#5a5aee" opacity="0.85"/></g><g filter="url(#bl3)"><rect x="131.0" y="404.0" width="36.0" height="8.0" fill="#d3d3d3" opacity="0.3"/><rect x="131.0" y="494.0" width="36.0" height="8.0" fill="#d3d3d3" opacity="0.3"/></g><g filter="url(#bl05)"><rect x="175.9" y="441.9" width="3.0" height="21.0" fill="#0000f0" /></g><g filter="url(#bl05)"><polygon points="170.0,415.3 175.2,415.3 177.0,419.8 175.6,420.6 174.0,417.6 170.0,417.6" fill="#ffff00" /><polygon points="170.0,489.5 175.2,489.5 177.0,485.0 175.6,484.2 174.0,487.2 170.0,487.2" fill="#ffff00" /><path d="M170.3,424.8 C170.7,425.2 171.5,426.8 172.5,427.5 C173.5,428.2 175.5,428.4 176.3,429.2 C177.1,430.0 177.2,431.1 177.4,432.5 C177.6,433.9 177.3,436.7 177.3,437.5" stroke="#ffff00" stroke-width="2.2" fill="none"/><path d="M170.3,480.0 C170.7,479.5 171.5,478.0 172.5,477.3 C173.5,476.6 175.5,476.4 176.3,475.6 C177.1,474.8 177.2,473.7 177.4,472.3 C177.6,470.9 177.3,468.1 177.3,467.3" stroke="#ffff00" stroke-width="2.2" fill="none"/><rect x="170.0" y="447.4" width="5.2" height="10.0" fill="#ffff00" /></g><line x1="169.6" y1="415" x2="169.6" y2="490" stroke="#999" stroke-width="0.5" opacity="0.6"/></g>
<clipPath id="cc3"><rect x="378.6" y="406.8" width="46.2" height="93.0"/></clipPath><rect x="378.6" y="406.8" width="138.9" height="93.0" fill="#d3d3d3" /><g clip-path="url(#cc3)"><g filter="url(#bl2)"><rect x="378.0" y="405.0" width="48.0" height="96.0" fill="#ee9a9a" opacity="0.5"/><ellipse cx="384.0" cy="452.4" rx="15.0" ry="42.0" fill="#ee8a8a" opacity="0.55"/><ellipse cx="420.0" cy="452.4" rx="19.0" ry="48.0" fill="#e6dede" /><ellipse cx="414.5" cy="431.4" rx="10.5" ry="16.0" fill="#6a6aee" opacity="0.85"/><ellipse cx="414.5" cy="473.4" rx="10.5" ry="16.0" fill="#6a6aee" opacity="0.85"/><ellipse cx="410.0" cy="452.4" rx="4.0" ry="22.0" fill="#8c90e6" opacity="0.45"/></g><g filter="url(#bl15)"><ellipse cx="420.5" cy="431.4" rx="4.5" ry="8.5" fill="#2828f0" /><ellipse cx="420.5" cy="473.4" rx="4.5" ry="8.5" fill="#2828f0" /><ellipse cx="420.0" cy="452.4" rx="3.0" ry="6.0" fill="#e06060" /></g><g filter="url(#bl05)"><polygon points="415.5,417.5 418.0,417.5 418.0,424.0 424.7,425.5 424.7,429.0 415.5,427.0" fill="#ffff00" /><polygon points="415.5,487.3 418.0,487.3 418.0,480.8 424.7,479.3 424.7,475.8 415.5,477.8" fill="#ffff00" /><ellipse cx="423.5" cy="436.9" rx="1.8" ry="2.5" fill="#ffff00" /><ellipse cx="423.5" cy="467.9" rx="1.8" ry="2.5" fill="#ffff00" /><rect x="415.5" y="445.9" width="4.5" height="13.0" fill="#ffff00" /></g><path d="M424.5,415.6 L415.2,415.6 L415.2,490 L424.5,490" stroke="#888" stroke-width="0.5" fill="none"/></g>
<circle cx="122.3" cy="287.2" r="13.2" fill="none" stroke="#e0e0e0" stroke-width="1.0"/><circle cx="122.3" cy="287.2" r="26.5" fill="none" stroke="#e0e0e0" stroke-width="1.0"/><circle cx="122.3" cy="287.2" r="39.8" fill="none" stroke="#e0e0e0" stroke-width="1.0"/><circle cx="122.3" cy="287.2" r="53.0" fill="none" stroke="#e0e0e0" stroke-width="1.0"/><circle cx="122.3" cy="287.2" r="66.2" fill="none" stroke="#e0e0e0" stroke-width="1.0"/><line x1="122.3" y1="287.2" x2="188.5" y2="287.2" stroke="#e0e0e0" stroke-width="1.0"/><line x1="122.3" y1="287.2" x2="179.6" y2="254.1" stroke="#e0e0e0" stroke-width="1.0"/><line x1="122.3" y1="287.2" x2="155.4" y2="229.9" stroke="#e0e0e0" stroke-width="1.0"/><line x1="122.3" y1="287.2" x2="122.3" y2="221.0" stroke="#e0e0e0" stroke-width="1.0"/><line x1="122.3" y1="287.2" x2="89.2" y2="229.9" stroke="#e0e0e0" stroke-width="1.0"/><line x1="122.3" y1="287.2" x2="65.0" y2="254.1" stroke="#e0e0e0" stroke-width="1.0"/><line x1="122.3" y1="287.2" x2="56.1" y2="287.2" stroke="#e0e0e0" stroke-width="1.0"/><line x1="122.3" y1="287.2" x2="65.0" y2="320.3" stroke="#e0e0e0" stroke-width="1.0"/><line x1="122.3" y1="287.2" x2="89.2" y2="344.5" stroke="#e0e0e0" stroke-width="1.0"/><line x1="122.3" y1="287.2" x2="122.3" y2="353.4" stroke="#e0e0e0" stroke-width="1.0"/><line x1="122.3" y1="287.2" x2="155.4" y2="344.5" stroke="#e0e0e0" stroke-width="1.0"/><line x1="122.3" y1="287.2" x2="179.6" y2="320.3" stroke="#e0e0e0" stroke-width="1.0"/>
<circle cx="369.8" cy="287.1" r="13.2" fill="none" stroke="#e0e0e0" stroke-width="1.0"/><circle cx="369.8" cy="287.1" r="26.5" fill="none" stroke="#e0e0e0" stroke-width="1.0"/><circle cx="369.8" cy="287.1" r="39.8" fill="none" stroke="#e0e0e0" stroke-width="1.0"/><circle cx="369.8" cy="287.1" r="53.0" fill="none" stroke="#e0e0e0" stroke-width="1.0"/><circle cx="369.8" cy="287.1" r="66.2" fill="none" stroke="#e0e0e0" stroke-width="1.0"/><line x1="369.8" y1="287.1" x2="436.0" y2="287.1" stroke="#e0e0e0" stroke-width="1.0"/><line x1="369.8" y1="287.1" x2="427.1" y2="254.0" stroke="#e0e0e0" stroke-width="1.0"/><line x1="369.8" y1="287.1" x2="402.9" y2="229.8" stroke="#e0e0e0" stroke-width="1.0"/><line x1="369.8" y1="287.1" x2="369.8" y2="220.9" stroke="#e0e0e0" stroke-width="1.0"/><line x1="369.8" y1="287.1" x2="336.7" y2="229.8" stroke="#e0e0e0" stroke-width="1.0"/><line x1="369.8" y1="287.1" x2="312.5" y2="254.0" stroke="#e0e0e0" stroke-width="1.0"/><line x1="369.8" y1="287.1" x2="303.6" y2="287.1" stroke="#e0e0e0" stroke-width="1.0"/><line x1="369.8" y1="287.1" x2="312.5" y2="320.2" stroke="#e0e0e0" stroke-width="1.0"/><line x1="369.8" y1="287.1" x2="336.7" y2="344.4" stroke="#e0e0e0" stroke-width="1.0"/><line x1="369.8" y1="287.1" x2="369.8" y2="353.3" stroke="#e0e0e0" stroke-width="1.0"/><line x1="369.8" y1="287.1" x2="402.9" y2="344.4" stroke="#e0e0e0" stroke-width="1.0"/><line x1="369.8" y1="287.1" x2="427.1" y2="320.2" stroke="#e0e0e0" stroke-width="1.0"/>
<circle cx="122.8" cy="452.1" r="13.2" fill="none" stroke="#e0e0e0" stroke-width="1.0"/><circle cx="122.8" cy="452.1" r="26.5" fill="none" stroke="#e0e0e0" stroke-width="1.0"/><circle cx="122.8" cy="452.1" r="39.8" fill="none" stroke="#e0e0e0" stroke-width="1.0"/><circle cx="122.8" cy="452.1" r="53.0" fill="none" stroke="#e0e0e0" stroke-width="1.0"/><circle cx="122.8" cy="452.1" r="66.2" fill="none" stroke="#e0e0e0" stroke-width="1.0"/><line x1="122.8" y1="452.1" x2="189.0" y2="452.1" stroke="#e0e0e0" stroke-width="1.0"/><line x1="122.8" y1="452.1" x2="180.1" y2="419.0" stroke="#e0e0e0" stroke-width="1.0"/><line x1="122.8" y1="452.1" x2="155.9" y2="394.8" stroke="#e0e0e0" stroke-width="1.0"/><line x1="122.8" y1="452.1" x2="122.8" y2="385.9" stroke="#e0e0e0" stroke-width="1.0"/><line x1="122.8" y1="452.1" x2="89.7" y2="394.8" stroke="#e0e0e0" stroke-width="1.0"/><line x1="122.8" y1="452.1" x2="65.5" y2="419.0" stroke="#e0e0e0" stroke-width="1.0"/><line x1="122.8" y1="452.1" x2="56.6" y2="452.1" stroke="#e0e0e0" stroke-width="1.0"/><line x1="122.8" y1="452.1" x2="65.5" y2="485.2" stroke="#e0e0e0" stroke-width="1.0"/><line x1="122.8" y1="452.1" x2="89.7" y2="509.4" stroke="#e0e0e0" stroke-width="1.0"/><line x1="122.8" y1="452.1" x2="122.8" y2="518.3" stroke="#e0e0e0" stroke-width="1.0"/><line x1="122.8" y1="452.1" x2="155.9" y2="509.4" stroke="#e0e0e0" stroke-width="1.0"/><line x1="122.8" y1="452.1" x2="180.1" y2="485.2" stroke="#e0e0e0" stroke-width="1.0"/>
<circle cx="369.6" cy="452.2" r="13.2" fill="none" stroke="#e0e0e0" stroke-width="1.0"/><circle cx="369.6" cy="452.2" r="26.5" fill="none" stroke="#e0e0e0" stroke-width="1.0"/><circle cx="369.6" cy="452.2" r="39.8" fill="none" stroke="#e0e0e0" stroke-width="1.0"/><circle cx="369.6" cy="452.2" r="53.0" fill="none" stroke="#e0e0e0" stroke-width="1.0"/><circle cx="369.6" cy="452.2" r="66.2" fill="none" stroke="#e0e0e0" stroke-width="1.0"/><line x1="369.6" y1="452.2" x2="435.8" y2="452.2" stroke="#e0e0e0" stroke-width="1.0"/><line x1="369.6" y1="452.2" x2="426.9" y2="419.1" stroke="#e0e0e0" stroke-width="1.0"/><line x1="369.6" y1="452.2" x2="402.7" y2="394.9" stroke="#e0e0e0" stroke-width="1.0"/><line x1="369.6" y1="452.2" x2="369.6" y2="386.0" stroke="#e0e0e0" stroke-width="1.0"/><line x1="369.6" y1="452.2" x2="336.5" y2="394.9" stroke="#e0e0e0" stroke-width="1.0"/><line x1="369.6" y1="452.2" x2="312.3" y2="419.1" stroke="#e0e0e0" stroke-width="1.0"/><line x1="369.6" y1="452.2" x2="303.4" y2="452.2" stroke="#e0e0e0" stroke-width="1.0"/><line x1="369.6" y1="452.2" x2="312.3" y2="485.3" stroke="#e0e0e0" stroke-width="1.0"/><line x1="369.6" y1="452.2" x2="336.5" y2="509.5" stroke="#e0e0e0" stroke-width="1.0"/><line x1="369.6" y1="452.2" x2="369.6" y2="518.4" stroke="#e0e0e0" stroke-width="1.0"/><line x1="369.6" y1="452.2" x2="402.7" y2="509.5" stroke="#e0e0e0" stroke-width="1.0"/><line x1="369.6" y1="452.2" x2="426.9" y2="485.3" stroke="#e0e0e0" stroke-width="1.0"/>
<rect x="178.6" y="241.3" width="92.3" height="93.3" fill="#d3d3d3" />
<rect x="425.0" y="241.2" width="92.5" height="92.8" fill="#d3d3d3" />
<rect x="178.6" y="406.7" width="92.6" height="93.3" fill="#d3d3d3" />
<rect x="424.8" y="406.8" width="92.7" height="93.0" fill="#d3d3d3" />
<clipPath id="wc1"><rect x="175.0" y="277.2" width="95.9" height="20"/></clipPath><g clip-path="url(#wc1)" opacity="0.92"><ellipse cx="180.8" cy="287.2" rx="5.0" ry="2.6" fill="url(#gR)" /><ellipse cx="192.8" cy="287.2" rx="5.0" ry="2.6" fill="url(#gB)" /><ellipse cx="203.0" cy="287.2" rx="5.0" ry="2.6" fill="url(#gR)" /><ellipse cx="213.8" cy="287.2" rx="5.0" ry="2.6" fill="url(#gB)" /><ellipse cx="224.5" cy="287.2" rx="5.0" ry="2.6" fill="url(#gR)" /><ellipse cx="235.4" cy="287.2" rx="5.0" ry="2.6" fill="url(#gB)" /><ellipse cx="246.2" cy="287.2" rx="5.0" ry="2.6" fill="url(#gR)" /><ellipse cx="257.0" cy="287.2" rx="5.0" ry="2.6" fill="url(#gB)" /><ellipse cx="267.6" cy="287.2" rx="5.0" ry="2.6" fill="url(#gR)" /></g>
<clipPath id="wc2"><rect x="423.0" y="277.2" width="94.5" height="20"/></clipPath><g clip-path="url(#wc2)" opacity="0.92"><ellipse cx="429.2" cy="287.2" rx="6.0" ry="2.6" fill="url(#gB)" /><ellipse cx="445.0" cy="287.2" rx="6.0" ry="2.6" fill="url(#gR)" /><ellipse cx="456.8" cy="287.2" rx="6.0" ry="2.6" fill="url(#gB)" /><ellipse cx="470.5" cy="287.2" rx="6.0" ry="2.6" fill="url(#gR)" /><ellipse cx="483.8" cy="287.2" rx="6.0" ry="2.6" fill="url(#gB)" /><ellipse cx="497.1" cy="287.2" rx="6.0" ry="2.6" fill="url(#gR)" /><ellipse cx="511.1" cy="287.2" rx="6.0" ry="2.6" fill="url(#gB)" /></g>
<clipPath id="wc4"><rect x="179.5" y="442.4" width="91.7" height="20"/></clipPath><g clip-path="url(#wc4)" opacity="0.92"><ellipse cx="188.6" cy="452.4" rx="8.2" ry="2.6" fill="url(#gR)" /><ellipse cx="206.7" cy="452.4" rx="8.2" ry="2.6" fill="url(#gB)" /><ellipse cx="224.1" cy="452.4" rx="8.2" ry="2.6" fill="url(#gR)" /><ellipse cx="240.8" cy="452.4" rx="8.2" ry="2.6" fill="url(#gB)" /><ellipse cx="258.1" cy="452.4" rx="8.2" ry="2.6" fill="url(#gR)" /><ellipse cx="275.5" cy="452.4" rx="8.2" ry="2.6" fill="url(#gB)" /></g>
<clipPath id="wc3"><rect x="419.0" y="442.4" width="98.5" height="20"/></clipPath><g clip-path="url(#wc3)" opacity="0.92"><ellipse cx="429.5" cy="452.4" rx="9.5" ry="2.6" fill="url(#gR)" /><ellipse cx="451.3" cy="452.4" rx="9.5" ry="2.6" fill="url(#gB)" /><ellipse cx="471.9" cy="452.4" rx="9.5" ry="2.6" fill="url(#gR)" /><ellipse cx="491.6" cy="452.4" rx="9.5" ry="2.6" fill="url(#gB)" /><ellipse cx="511.5" cy="452.4" rx="9.5" ry="2.6" fill="url(#gR)" /></g>
<line x1="174.0" y1="287.2" x2="188.3" y2="287.2" stroke="#e0e0e0" stroke-width="0.9"/>
<line x1="421.0" y1="287.1" x2="435.8" y2="287.1" stroke="#e0e0e0" stroke-width="0.9"/>
<line x1="178.0" y1="452.1" x2="188.8" y2="452.1" stroke="#e0e0e0" stroke-width="0.9"/>
<line x1="418.0" y1="452.2" x2="435.6" y2="452.2" stroke="#e0e0e0" stroke-width="0.9"/>
<path d="M121.60,287.20 L121.60,287.20 L121.60,287.20 L121.60,287.20 L121.60,287.20 L121.60,287.20 L121.60,287.20 L121.60,287.20 L121.60,287.20 L121.60,287.20 L121.60,287.20 L121.60,287.20 L121.60,287.20 L121.60,287.20 L121.60,287.20 L121.60,287.20 L121.60,287.20 L121.60,287.20 L121.60,287.20 L121.60,287.20 L121.60,287.20 L121.60,287.20 L121.60,287.20 L121.60,287.20 L121.60,287.20 L121.60,287.20 L121.60,287.20 L121.60,287.20 L121.60,287.20 L121.60,287.20 L121.60,287.20 L121.60,287.20 L121.60,287.20 L121.60,287.20 L121.60,287.20 L121.60,287.20 L121.60,287.20 L121.60,287.20 L121.60,287.20 L121.60,287.20 L121.60,287.20 L121.60,287.20 L121.60,287.20 L121.60,287.20 L121.60,287.20 L121.60,287.20 L121.60,287.20 L121.60,287.20 L121.60,287.20 L121.60,287.20 L121.60,287.20 L121.60,287.20 L121.60,287.20 L121.60,287.20 L121.60,287.20 L121.60,287.20 L121.60,287.20 L121.60,287.20 L121.60,287.20 L121.59,287.20 L121.59,287.19 L121.58,287.19 L121.56,287.18 L121.53,287.16 L121.48,287.14 L121.41,287.11 L121.30,287.07 L121.15,287.01 L120.91,286.92 L120.58,286.81 L120.13,286.66 L119.50,286.48 L118.67,286.25 L117.60,285.98 L116.22,285.66 L114.52,285.30 L112.44,284.92 L109.97,284.51 L107.10,284.12 L103.84,283.75 L100.25,283.43 L96.38,283.21 L92.34,283.09 L88.24,283.10 L84.24,283.27 L80.48,283.60 L77.13,284.09 L74.34,284.72 L72.24,285.48 L70.94,286.32 L70.50,287.20 L70.94,288.08 L72.24,288.92 L74.34,289.68 L77.13,290.31 L80.48,290.80 L84.24,291.13 L88.24,291.30 L92.34,291.31 L96.38,291.19 L100.25,290.97 L103.84,290.65 L107.10,290.28 L109.97,289.89 L112.44,289.48 L114.52,289.10 L116.22,288.74 L117.60,288.42 L118.67,288.15 L119.50,287.92 L120.13,287.74 L120.58,287.59 L120.91,287.48 L121.15,287.39 L121.30,287.33 L121.41,287.29 L121.48,287.26 L121.53,287.24 L121.56,287.22 L121.58,287.21 L121.59,287.21 L121.59,287.20 L121.60,287.20 L121.60,287.20 L121.60,287.20 L121.60,287.20 L121.60,287.20 L121.60,287.20 L121.60,287.20 L121.60,287.20 L121.60,287.20 L121.60,287.20 L121.60,287.20 L121.60,287.20 L121.60,287.20 L121.60,287.20 L121.60,287.20 L121.60,287.20 L121.60,287.20 L121.60,287.20 L121.60,287.20 L121.60,287.20 L121.60,287.20 L121.60,287.20 L121.60,287.20 L121.60,287.20 L121.60,287.20 L121.60,287.20 L121.60,287.20 L121.60,287.20 L121.60,287.20 L121.60,287.20 L121.60,287.20 L121.60,287.20 L121.60,287.20 L121.60,287.20 L121.60,287.20 L121.60,287.20 L121.60,287.20 L121.60,287.20 L121.60,287.20 L121.60,287.20 L121.60,287.20 L121.60,287.20 L121.60,287.20 L121.60,287.20 L121.60,287.20 L121.60,287.20 L121.60,287.20 L121.60,287.20 L121.60,287.20 L121.60,287.20 L121.60,287.20 L121.60,287.20 L121.60,287.20 L121.60,287.20 L121.60,287.20 L121.60,287.20 L121.60,287.20 L121.60,287.20 L121.60,287.20Z" fill="none" stroke="#a8203a" stroke-width="1.7" stroke-linejoin="round"/>
<ellipse cx="121.1" cy="287.2" rx="1.35" ry="2.35" fill="none" stroke="#1b7fd4" stroke-width="1.8"/>
<text x="193.0" y="289.7" font-size="7" font-weight="bold" fill="#1a1a1a" text-anchor="middle">0</text><text x="185.8" y="250.7" font-size="7" font-weight="bold" fill="#1a1a1a" text-anchor="middle">30</text><text x="161.2" y="225.5" font-size="7" font-weight="bold" fill="#1a1a1a" text-anchor="middle">60</text><text x="122.6" y="215.9" font-size="7" font-weight="bold" fill="#1a1a1a" text-anchor="middle">90</text><text x="82.1" y="225.7" font-size="7" font-weight="bold" fill="#1a1a1a" text-anchor="middle">120</text><text x="56.8" y="251.1" font-size="7" font-weight="bold" fill="#1a1a1a" text-anchor="middle">150</text><text x="47.8" y="290.0" font-size="7" font-weight="bold" fill="#1a1a1a" text-anchor="middle">180</text><text x="56.9" y="330.0" font-size="7" font-weight="bold" fill="#1a1a1a" text-anchor="middle">210</text><text x="82.1" y="355.5" font-size="7" font-weight="bold" fill="#1a1a1a" text-anchor="middle">240</text><text x="122.4" y="364.3" font-size="7" font-weight="bold" fill="#1a1a1a" text-anchor="middle">270</text><text x="162.8" y="355.2" font-size="7" font-weight="bold" fill="#1a1a1a" text-anchor="middle">300</text><text x="186.3" y="330.3" font-size="7" font-weight="bold" fill="#1a1a1a" text-anchor="middle">330</text><text x="125.2" y="276.8" font-size="7" font-weight="bold" fill="#1a1a1a" text-anchor="middle">2</text><text x="127.3" y="263.6" font-size="7" font-weight="bold" fill="#1a1a1a" text-anchor="middle">4</text><text x="129.4" y="250.4" font-size="7" font-weight="bold" fill="#1a1a1a" text-anchor="middle">6</text><text x="131.5" y="237.2" font-size="7" font-weight="bold" fill="#1a1a1a" text-anchor="middle">8</text><text x="133.6" y="224.0" font-size="7" font-weight="bold" fill="#1a1a1a" text-anchor="middle">10</text>
<line x1="75.3" y1="242.7" x2="93.3" y2="242.7" stroke="#a51d35" stroke-width="1.4"/><text x="94.1" y="244.9" font-size="6.3" font-weight="bold" fill="#111">λ=850nm</text><line x1="75.3" y1="250.2" x2="93.3" y2="250.2" stroke="#1b82d8" stroke-width="1.4"/><text x="94.1" y="252.4" font-size="6.3" font-weight="bold" fill="#111">Reference</text>
<text class="sf" x="44.8" y="220.8" font-size="18" fill="#111">(c1)</text>
<path d="M367.70,287.10 L367.70,287.10 L367.70,287.10 L367.70,287.10 L367.70,287.10 L367.70,287.10 L367.70,287.10 L367.70,287.10 L367.70,287.10 L367.70,287.10 L367.70,287.10 L367.70,287.10 L367.70,287.10 L367.70,287.10 L367.70,287.10 L367.70,287.10 L367.70,287.10 L367.70,287.10 L367.70,287.10 L367.70,287.10 L367.70,287.10 L367.70,287.10 L367.70,287.10 L367.70,287.10 L367.70,287.10 L367.70,287.10 L367.70,287.10 L367.70,287.10 L367.70,287.10 L367.70,287.10 L367.70,287.09 L367.70,287.09 L367.69,287.09 L367.69,287.08 L367.69,287.08 L367.68,287.07 L367.67,287.06 L367.66,287.05 L367.65,287.03 L367.63,287.02 L367.61,286.99 L367.58,286.96 L367.54,286.93 L367.50,286.88 L367.44,286.83 L367.37,286.77 L367.29,286.70 L367.19,286.62 L367.07,286.53 L366.92,286.42 L366.75,286.30 L366.54,286.16 L366.31,286.01 L366.03,285.84 L365.72,285.66 L365.36,285.46 L364.95,285.25 L364.49,285.02 L363.98,284.77 L363.40,284.52 L362.77,284.25 L362.07,283.98 L361.31,283.70 L360.48,283.42 L359.59,283.14 L358.63,282.87 L357.61,282.61 L356.53,282.36 L355.39,282.13 L354.20,281.92 L352.97,281.74 L351.70,281.59 L350.40,281.48 L349.07,281.40 L347.73,281.38 L346.40,281.39 L345.07,281.46 L343.76,281.57 L342.49,281.74 L341.26,281.96 L340.09,282.23 L338.99,282.55 L337.96,282.92 L337.03,283.33 L336.21,283.79 L335.49,284.28 L334.89,284.81 L334.42,285.36 L334.08,285.93 L333.87,286.51 L333.80,287.10 L333.87,287.69 L334.08,288.27 L334.42,288.84 L334.89,289.39 L335.49,289.92 L336.21,290.41 L337.03,290.87 L337.96,291.28 L338.99,291.65 L340.09,291.97 L341.26,292.24 L342.49,292.46 L343.76,292.63 L345.07,292.74 L346.40,292.81 L347.73,292.82 L349.07,292.80 L350.40,292.72 L351.70,292.61 L352.97,292.46 L354.20,292.28 L355.39,292.07 L356.53,291.84 L357.61,291.59 L358.63,291.33 L359.59,291.06 L360.48,290.78 L361.31,290.50 L362.07,290.22 L362.77,289.95 L363.40,289.68 L363.98,289.43 L364.49,289.18 L364.95,288.95 L365.36,288.74 L365.72,288.54 L366.03,288.36 L366.31,288.19 L366.54,288.04 L366.75,287.90 L366.92,287.78 L367.07,287.67 L367.19,287.58 L367.29,287.50 L367.37,287.43 L367.44,287.37 L367.50,287.32 L367.54,287.27 L367.58,287.24 L367.61,287.21 L367.63,287.18 L367.65,287.17 L367.66,287.15 L367.67,287.14 L367.68,287.13 L367.69,287.12 L367.69,287.12 L367.69,287.11 L367.70,287.11 L367.70,287.11 L367.70,287.10 L367.70,287.10 L367.70,287.10 L367.70,287.10 L367.70,287.10 L367.70,287.10 L367.70,287.10 L367.70,287.10 L367.70,287.10 L367.70,287.10 L367.70,287.10 L367.70,287.10 L367.70,287.10 L367.70,287.10 L367.70,287.10 L367.70,287.10 L367.70,287.10 L367.70,287.10 L367.70,287.10 L367.70,287.10 L367.70,287.10 L367.70,287.10 L367.70,287.10 L367.70,287.10 L367.70,287.10 L367.70,287.10 L367.70,287.10 L367.70,287.10 L367.70,287.10 L367.70,287.10Z" fill="none" stroke="#a8203a" stroke-width="1.7" stroke-linejoin="round"/>
<ellipse cx="367.5" cy="286.9" rx="1.75" ry="2.55" fill="none" stroke="#1b7fd4" stroke-width="1.8"/>
<text x="439.1" y="289.6" font-size="7" font-weight="bold" fill="#1a1a1a" text-anchor="middle">0</text><text x="431.9" y="250.6" font-size="7" font-weight="bold" fill="#1a1a1a" text-anchor="middle">30</text><text x="407.3" y="225.4" font-size="7" font-weight="bold" fill="#1a1a1a" text-anchor="middle">60</text><text x="368.7" y="215.8" font-size="7" font-weight="bold" fill="#1a1a1a" text-anchor="middle">90</text><text x="328.2" y="225.6" font-size="7" font-weight="bold" fill="#1a1a1a" text-anchor="middle">120</text><text x="302.9" y="251.0" font-size="7" font-weight="bold" fill="#1a1a1a" text-anchor="middle">150</text><text x="293.9" y="289.9" font-size="7" font-weight="bold" fill="#1a1a1a" text-anchor="middle">180</text><text x="303.0" y="329.9" font-size="7" font-weight="bold" fill="#1a1a1a" text-anchor="middle">210</text><text x="328.2" y="355.4" font-size="7" font-weight="bold" fill="#1a1a1a" text-anchor="middle">240</text><text x="368.5" y="364.2" font-size="7" font-weight="bold" fill="#1a1a1a" text-anchor="middle">270</text><text x="408.9" y="355.1" font-size="7" font-weight="bold" fill="#1a1a1a" text-anchor="middle">300</text><text x="432.4" y="330.2" font-size="7" font-weight="bold" fill="#1a1a1a" text-anchor="middle">330</text><text x="371.3" y="276.7" font-size="7" font-weight="bold" fill="#1a1a1a" text-anchor="middle">2</text><text x="373.4" y="263.5" font-size="7" font-weight="bold" fill="#1a1a1a" text-anchor="middle">4</text><text x="375.5" y="250.3" font-size="7" font-weight="bold" fill="#1a1a1a" text-anchor="middle">6</text><text x="377.6" y="237.1" font-size="7" font-weight="bold" fill="#1a1a1a" text-anchor="middle">8</text><text x="379.7" y="223.9" font-size="7" font-weight="bold" fill="#1a1a1a" text-anchor="middle">10</text>
<line x1="321.0" y1="242.0" x2="339.0" y2="242.0" stroke="#a51d35" stroke-width="1.4"/><text x="339.8" y="244.2" font-size="6.3" font-weight="bold" fill="#111">λ=1050nm</text><line x1="321.0" y1="249.5" x2="339.0" y2="249.5" stroke="#1b82d8" stroke-width="1.4"/><text x="339.8" y="251.7" font-size="6.3" font-weight="bold" fill="#111">Reference</text>
<text class="sf" x="289.9" y="220.7" font-size="18" fill="#111">(c2)</text>
<path d="M121.50,452.30 L121.50,452.30 L121.50,452.30 L121.50,452.30 L121.50,452.30 L121.50,452.30 L121.50,452.30 L121.50,452.30 L121.50,452.30 L121.50,452.30 L121.50,452.30 L121.50,452.30 L121.50,452.30 L121.50,452.30 L121.50,452.30 L121.50,452.30 L121.50,452.30 L121.50,452.30 L121.50,452.30 L121.50,452.30 L121.50,452.30 L121.50,452.30 L121.50,452.30 L121.50,452.30 L121.50,452.30 L121.50,452.30 L121.50,452.30 L121.50,452.30 L121.50,452.30 L121.50,452.30 L121.50,452.30 L121.50,452.30 L121.50,452.30 L121.50,452.30 L121.50,452.30 L121.50,452.30 L121.50,452.30 L121.50,452.29 L121.49,452.29 L121.49,452.29 L121.48,452.28 L121.48,452.27 L121.47,452.26 L121.46,452.25 L121.44,452.24 L121.41,452.21 L121.38,452.19 L121.34,452.15 L121.29,452.11 L121.22,452.05 L121.13,451.99 L121.02,451.91 L120.88,451.82 L120.71,451.70 L120.50,451.57 L120.25,451.42 L119.94,451.25 L119.58,451.05 L119.14,450.83 L118.64,450.58 L118.05,450.31 L117.37,450.01 L116.59,449.69 L115.71,449.35 L114.72,448.99 L113.61,448.62 L112.38,448.24 L111.03,447.85 L109.55,447.47 L107.96,447.10 L106.25,446.75 L104.44,446.42 L102.52,446.13 L100.52,445.89 L98.45,445.69 L96.33,445.56 L94.18,445.49 L92.01,445.49 L89.86,445.57 L87.75,445.74 L85.70,445.99 L83.75,446.32 L81.91,446.74 L80.22,447.23 L78.70,447.80 L77.37,448.44 L76.25,449.14 L75.37,449.88 L74.72,450.67 L74.33,451.48 L74.20,452.30 L74.33,453.12 L74.72,453.93 L75.37,454.72 L76.25,455.46 L77.37,456.16 L78.70,456.80 L80.22,457.37 L81.91,457.86 L83.75,458.28 L85.70,458.61 L87.75,458.86 L89.86,459.03 L92.01,459.11 L94.18,459.11 L96.33,459.04 L98.45,458.91 L100.52,458.71 L102.52,458.47 L104.44,458.18 L106.25,457.85 L107.96,457.50 L109.55,457.13 L111.03,456.75 L112.38,456.36 L113.61,455.98 L114.72,455.61 L115.71,455.25 L116.59,454.91 L117.37,454.59 L118.05,454.29 L118.64,454.02 L119.14,453.77 L119.58,453.55 L119.94,453.35 L120.25,453.18 L120.50,453.03 L120.71,452.90 L120.88,452.78 L121.02,452.69 L121.13,452.61 L121.22,452.55 L121.29,452.49 L121.34,452.45 L121.38,452.41 L121.41,452.39 L121.44,452.36 L121.46,452.35 L121.47,452.34 L121.48,452.33 L121.48,452.32 L121.49,452.31 L121.49,452.31 L121.50,452.31 L121.50,452.30 L121.50,452.30 L121.50,452.30 L121.50,452.30 L121.50,452.30 L121.50,452.30 L121.50,452.30 L121.50,452.30 L121.50,452.30 L121.50,452.30 L121.50,452.30 L121.50,452.30 L121.50,452.30 L121.50,452.30 L121.50,452.30 L121.50,452.30 L121.50,452.30 L121.50,452.30 L121.50,452.30 L121.50,452.30 L121.50,452.30 L121.50,452.30 L121.50,452.30 L121.50,452.30 L121.50,452.30 L121.50,452.30 L121.50,452.30 L121.50,452.30 L121.50,452.30 L121.50,452.30 L121.50,452.30 L121.50,452.30 L121.50,452.30 L121.50,452.30 L121.50,452.30 L121.50,452.30 L121.50,452.30Z" fill="none" stroke="#a8203a" stroke-width="1.7" stroke-linejoin="round"/>
<ellipse cx="120.3" cy="452.5" rx="2.00" ry="3.40" fill="none" stroke="#1b7fd4" stroke-width="1.8"/>
<text x="192.9" y="454.8" font-size="7" font-weight="bold" fill="#1a1a1a" text-anchor="middle">0</text><text x="185.7" y="415.8" font-size="7" font-weight="bold" fill="#1a1a1a" text-anchor="middle">30</text><text x="161.1" y="390.6" font-size="7" font-weight="bold" fill="#1a1a1a" text-anchor="middle">60</text><text x="122.5" y="381.0" font-size="7" font-weight="bold" fill="#1a1a1a" text-anchor="middle">90</text><text x="82.0" y="390.8" font-size="7" font-weight="bold" fill="#1a1a1a" text-anchor="middle">120</text><text x="56.7" y="416.2" font-size="7" font-weight="bold" fill="#1a1a1a" text-anchor="middle">150</text><text x="47.7" y="455.1" font-size="7" font-weight="bold" fill="#1a1a1a" text-anchor="middle">180</text><text x="56.8" y="495.1" font-size="7" font-weight="bold" fill="#1a1a1a" text-anchor="middle">210</text><text x="82.0" y="520.6" font-size="7" font-weight="bold" fill="#1a1a1a" text-anchor="middle">240</text><text x="122.3" y="529.4" font-size="7" font-weight="bold" fill="#1a1a1a" text-anchor="middle">270</text><text x="162.7" y="520.3" font-size="7" font-weight="bold" fill="#1a1a1a" text-anchor="middle">300</text><text x="186.2" y="495.4" font-size="7" font-weight="bold" fill="#1a1a1a" text-anchor="middle">330</text><text x="125.1" y="441.9" font-size="7" font-weight="bold" fill="#1a1a1a" text-anchor="middle">2</text><text x="127.2" y="428.7" font-size="7" font-weight="bold" fill="#1a1a1a" text-anchor="middle">4</text><text x="129.3" y="415.5" font-size="7" font-weight="bold" fill="#1a1a1a" text-anchor="middle">6</text><text x="131.4" y="402.3" font-size="7" font-weight="bold" fill="#1a1a1a" text-anchor="middle">8</text><text x="133.5" y="389.1" font-size="7" font-weight="bold" fill="#1a1a1a" text-anchor="middle">10</text>
<line x1="75.0" y1="409.0" x2="93.0" y2="409.0" stroke="#a51d35" stroke-width="1.4"/><text x="93.8" y="411.2" font-size="6.3" font-weight="bold" fill="#111">λ=1310nm</text><line x1="75.0" y1="416.5" x2="93.0" y2="416.5" stroke="#1b82d8" stroke-width="1.4"/><text x="93.8" y="418.7" font-size="6.3" font-weight="bold" fill="#111">Reference</text>
<text class="sf" x="44.8" y="385.7" font-size="18" fill="#111">(c4)</text>
<path d="M368.10,452.30 L368.10,452.30 L368.10,452.30 L368.10,452.30 L368.10,452.30 L368.10,452.30 L368.10,452.30 L368.10,452.30 L368.10,452.30 L368.10,452.30 L368.10,452.30 L368.10,452.30 L368.10,452.30 L368.10,452.30 L368.10,452.30 L368.10,452.30 L368.10,452.30 L368.10,452.30 L368.10,452.30 L368.10,452.30 L368.10,452.30 L368.10,452.30 L368.10,452.30 L368.10,452.30 L368.10,452.30 L368.10,452.30 L368.10,452.30 L368.10,452.30 L368.10,452.30 L368.10,452.30 L368.10,452.30 L368.10,452.30 L368.10,452.30 L368.10,452.30 L368.10,452.30 L368.10,452.30 L368.09,452.29 L368.09,452.29 L368.09,452.28 L368.08,452.28 L368.07,452.27 L368.06,452.26 L368.05,452.24 L368.03,452.22 L368.00,452.19 L367.96,452.16 L367.91,452.12 L367.84,452.06 L367.76,452.00 L367.66,451.91 L367.52,451.81 L367.35,451.69 L367.14,451.55 L366.89,451.39 L366.58,451.19 L366.20,450.97 L365.75,450.72 L365.22,450.43 L364.60,450.11 L363.87,449.76 L363.02,449.37 L362.05,448.95 L360.94,448.50 L359.70,448.02 L358.30,447.52 L356.74,447.00 L355.02,446.48 L353.14,445.95 L351.10,445.43 L348.90,444.93 L346.55,444.46 L344.06,444.02 L341.44,443.64 L338.71,443.32 L335.90,443.07 L333.02,442.90 L330.10,442.83 L327.18,442.85 L324.27,442.98 L321.43,443.23 L318.68,443.59 L316.06,444.06 L313.60,444.64 L311.34,445.33 L309.30,446.12 L307.53,447.00 L306.04,447.96 L304.85,448.99 L304.00,450.06 L303.47,451.17 L303.30,452.30 L303.47,453.43 L304.00,454.54 L304.85,455.61 L306.04,456.64 L307.53,457.60 L309.30,458.48 L311.34,459.27 L313.60,459.96 L316.06,460.54 L318.68,461.01 L321.43,461.37 L324.27,461.62 L327.18,461.75 L330.10,461.77 L333.02,461.70 L335.90,461.53 L338.71,461.28 L341.44,460.96 L344.06,460.58 L346.55,460.14 L348.90,459.67 L351.10,459.17 L353.14,458.65 L355.02,458.12 L356.74,457.60 L358.30,457.08 L359.70,456.58 L360.94,456.10 L362.05,455.65 L363.02,455.23 L363.87,454.84 L364.60,454.49 L365.22,454.17 L365.75,453.88 L366.20,453.63 L366.58,453.41 L366.89,453.21 L367.14,453.05 L367.35,452.91 L367.52,452.79 L367.66,452.69 L367.76,452.60 L367.84,452.54 L367.91,452.48 L367.96,452.44 L368.00,452.41 L368.03,452.38 L368.05,452.36 L368.06,452.34 L368.07,452.33 L368.08,452.32 L368.09,452.32 L368.09,452.31 L368.09,452.31 L368.10,452.30 L368.10,452.30 L368.10,452.30 L368.10,452.30 L368.10,452.30 L368.10,452.30 L368.10,452.30 L368.10,452.30 L368.10,452.30 L368.10,452.30 L368.10,452.30 L368.10,452.30 L368.10,452.30 L368.10,452.30 L368.10,452.30 L368.10,452.30 L368.10,452.30 L368.10,452.30 L368.10,452.30 L368.10,452.30 L368.10,452.30 L368.10,452.30 L368.10,452.30 L368.10,452.30 L368.10,452.30 L368.10,452.30 L368.10,452.30 L368.10,452.30 L368.10,452.30 L368.10,452.30 L368.10,452.30 L368.10,452.30 L368.10,452.30 L368.10,452.30 L368.10,452.30 L368.10,452.30Z" fill="none" stroke="#a8203a" stroke-width="1.7" stroke-linejoin="round"/>
<ellipse cx="366.7" cy="452.3" rx="2.55" ry="4.20" fill="none" stroke="#1b7fd4" stroke-width="1.8"/>
<text x="439.5" y="454.8" font-size="7" font-weight="bold" fill="#1a1a1a" text-anchor="middle">0</text><text x="432.3" y="415.8" font-size="7" font-weight="bold" fill="#1a1a1a" text-anchor="middle">30</text><text x="407.7" y="390.6" font-size="7" font-weight="bold" fill="#1a1a1a" text-anchor="middle">60</text><text x="369.1" y="381.0" font-size="7" font-weight="bold" fill="#1a1a1a" text-anchor="middle">90</text><text x="328.6" y="390.8" font-size="7" font-weight="bold" fill="#1a1a1a" text-anchor="middle">120</text><text x="303.3" y="416.2" font-size="7" font-weight="bold" fill="#1a1a1a" text-anchor="middle">150</text><text x="294.3" y="455.1" font-size="7" font-weight="bold" fill="#1a1a1a" text-anchor="middle">180</text><text x="303.4" y="495.1" font-size="7" font-weight="bold" fill="#1a1a1a" text-anchor="middle">210</text><text x="328.6" y="520.6" font-size="7" font-weight="bold" fill="#1a1a1a" text-anchor="middle">240</text><text x="368.9" y="529.4" font-size="7" font-weight="bold" fill="#1a1a1a" text-anchor="middle">270</text><text x="409.3" y="520.3" font-size="7" font-weight="bold" fill="#1a1a1a" text-anchor="middle">300</text><text x="432.8" y="495.4" font-size="7" font-weight="bold" fill="#1a1a1a" text-anchor="middle">330</text><text x="371.7" y="441.9" font-size="7" font-weight="bold" fill="#1a1a1a" text-anchor="middle">2</text><text x="373.8" y="428.7" font-size="7" font-weight="bold" fill="#1a1a1a" text-anchor="middle">4</text><text x="375.9" y="415.5" font-size="7" font-weight="bold" fill="#1a1a1a" text-anchor="middle">6</text><text x="378.0" y="402.3" font-size="7" font-weight="bold" fill="#1a1a1a" text-anchor="middle">8</text><text x="380.1" y="389.1" font-size="7" font-weight="bold" fill="#1a1a1a" text-anchor="middle">10</text>
<line x1="320.3" y1="409.7" x2="338.3" y2="409.7" stroke="#a51d35" stroke-width="1.4"/><text x="339.1" y="411.9" font-size="6.3" font-weight="bold" fill="#111">λ=1550nm</text><line x1="320.3" y1="417.2" x2="338.3" y2="417.2" stroke="#1b82d8" stroke-width="1.4"/><text x="339.1" y="419.4" font-size="6.3" font-weight="bold" fill="#111">Reference</text>
<text class="sf" x="289.9" y="385.6" font-size="18" fill="#111">(c3)</text>
<line x1="43.7" y1="366.8" x2="508" y2="366.8" stroke="#2db866" stroke-width="1.9" stroke-dasharray="11 5.19"/>
<line x1="282.1" y1="209.8" x2="282.1" y2="530" stroke="#2db866" stroke-width="1.9" stroke-dasharray="11 5.3"/>
</svg></body></html>
